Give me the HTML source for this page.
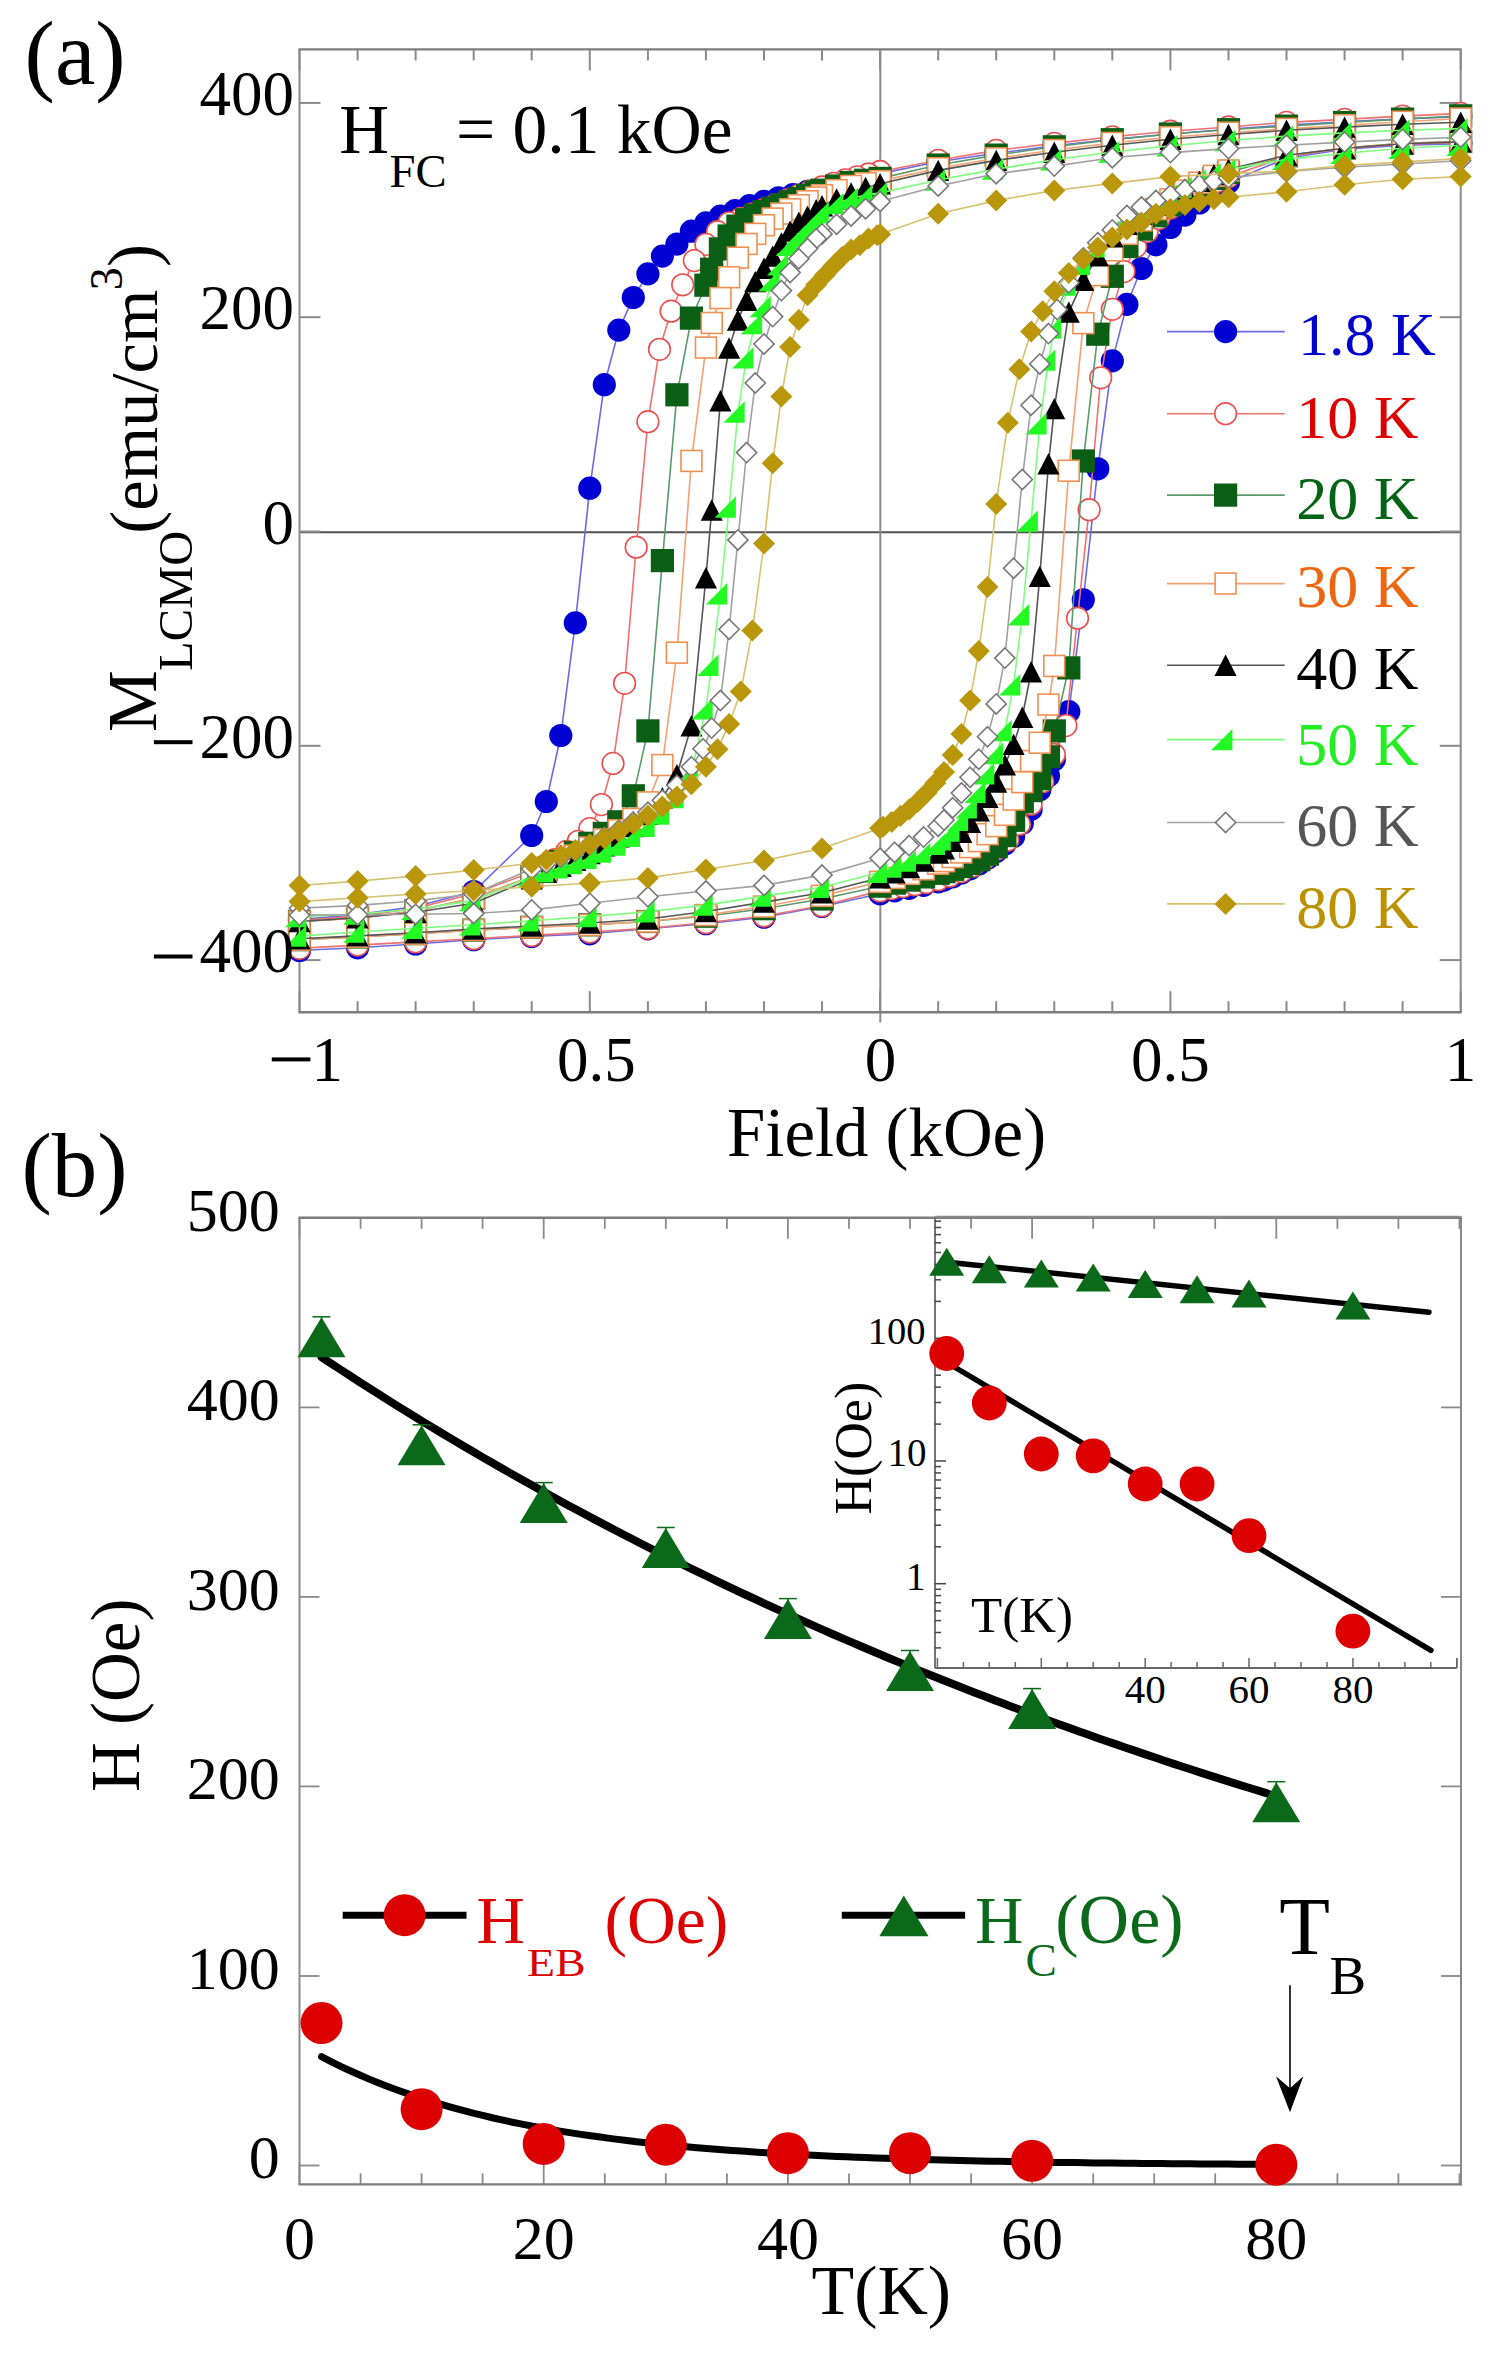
<!DOCTYPE html>
<html><head><meta charset="utf-8"><style>
html,body{margin:0;padding:0;background:#fff;}
svg{display:block;}
text{font-family:'Liberation Serif',serif;}
</style></head><body>
<svg width="1492" height="2360" viewBox="0 0 1492 2360">
<rect width="1492" height="2360" fill="#fff"/>
<line x1="299.5" y1="532.2" x2="1460.7" y2="532.2" stroke="#505050" stroke-width="2" />
<line x1="880.3" y1="49.4" x2="880.3" y2="1022.5" stroke="#8a8a8a" stroke-width="2" />
<line x1="299.5" y1="1012.2" x2="299.5" y2="991.2" stroke="#8a8a8a" stroke-width="2" />
<line x1="299.5" y1="49.4" x2="299.5" y2="70.4" stroke="#8a8a8a" stroke-width="2" />
<line x1="357.6" y1="1012.2" x2="357.6" y2="1001.2" stroke="#8a8a8a" stroke-width="2" />
<line x1="357.6" y1="49.4" x2="357.6" y2="60.4" stroke="#8a8a8a" stroke-width="2" />
<line x1="415.6" y1="1012.2" x2="415.6" y2="1001.2" stroke="#8a8a8a" stroke-width="2" />
<line x1="415.6" y1="49.4" x2="415.6" y2="60.4" stroke="#8a8a8a" stroke-width="2" />
<line x1="473.7" y1="1012.2" x2="473.7" y2="1001.2" stroke="#8a8a8a" stroke-width="2" />
<line x1="473.7" y1="49.4" x2="473.7" y2="60.4" stroke="#8a8a8a" stroke-width="2" />
<line x1="531.7" y1="1012.2" x2="531.7" y2="1001.2" stroke="#8a8a8a" stroke-width="2" />
<line x1="531.7" y1="49.4" x2="531.7" y2="60.4" stroke="#8a8a8a" stroke-width="2" />
<line x1="589.8" y1="1012.2" x2="589.8" y2="991.2" stroke="#8a8a8a" stroke-width="2" />
<line x1="589.8" y1="49.4" x2="589.8" y2="70.4" stroke="#8a8a8a" stroke-width="2" />
<line x1="647.9" y1="1012.2" x2="647.9" y2="1001.2" stroke="#8a8a8a" stroke-width="2" />
<line x1="647.9" y1="49.4" x2="647.9" y2="60.4" stroke="#8a8a8a" stroke-width="2" />
<line x1="705.9" y1="1012.2" x2="705.9" y2="1001.2" stroke="#8a8a8a" stroke-width="2" />
<line x1="705.9" y1="49.4" x2="705.9" y2="60.4" stroke="#8a8a8a" stroke-width="2" />
<line x1="764.0" y1="1012.2" x2="764.0" y2="1001.2" stroke="#8a8a8a" stroke-width="2" />
<line x1="764.0" y1="49.4" x2="764.0" y2="60.4" stroke="#8a8a8a" stroke-width="2" />
<line x1="822.0" y1="1012.2" x2="822.0" y2="1001.2" stroke="#8a8a8a" stroke-width="2" />
<line x1="822.0" y1="49.4" x2="822.0" y2="60.4" stroke="#8a8a8a" stroke-width="2" />
<line x1="880.1" y1="1012.2" x2="880.1" y2="991.2" stroke="#8a8a8a" stroke-width="2" />
<line x1="880.1" y1="49.4" x2="880.1" y2="70.4" stroke="#8a8a8a" stroke-width="2" />
<line x1="938.2" y1="1012.2" x2="938.2" y2="1001.2" stroke="#8a8a8a" stroke-width="2" />
<line x1="938.2" y1="49.4" x2="938.2" y2="60.4" stroke="#8a8a8a" stroke-width="2" />
<line x1="996.2" y1="1012.2" x2="996.2" y2="1001.2" stroke="#8a8a8a" stroke-width="2" />
<line x1="996.2" y1="49.4" x2="996.2" y2="60.4" stroke="#8a8a8a" stroke-width="2" />
<line x1="1054.3" y1="1012.2" x2="1054.3" y2="1001.2" stroke="#8a8a8a" stroke-width="2" />
<line x1="1054.3" y1="49.4" x2="1054.3" y2="60.4" stroke="#8a8a8a" stroke-width="2" />
<line x1="1112.3" y1="1012.2" x2="1112.3" y2="1001.2" stroke="#8a8a8a" stroke-width="2" />
<line x1="1112.3" y1="49.4" x2="1112.3" y2="60.4" stroke="#8a8a8a" stroke-width="2" />
<line x1="1170.4" y1="1012.2" x2="1170.4" y2="991.2" stroke="#8a8a8a" stroke-width="2" />
<line x1="1170.4" y1="49.4" x2="1170.4" y2="70.4" stroke="#8a8a8a" stroke-width="2" />
<line x1="1228.5" y1="1012.2" x2="1228.5" y2="1001.2" stroke="#8a8a8a" stroke-width="2" />
<line x1="1228.5" y1="49.4" x2="1228.5" y2="60.4" stroke="#8a8a8a" stroke-width="2" />
<line x1="1286.5" y1="1012.2" x2="1286.5" y2="1001.2" stroke="#8a8a8a" stroke-width="2" />
<line x1="1286.5" y1="49.4" x2="1286.5" y2="60.4" stroke="#8a8a8a" stroke-width="2" />
<line x1="1344.6" y1="1012.2" x2="1344.6" y2="1001.2" stroke="#8a8a8a" stroke-width="2" />
<line x1="1344.6" y1="49.4" x2="1344.6" y2="60.4" stroke="#8a8a8a" stroke-width="2" />
<line x1="1402.6" y1="1012.2" x2="1402.6" y2="1001.2" stroke="#8a8a8a" stroke-width="2" />
<line x1="1402.6" y1="49.4" x2="1402.6" y2="60.4" stroke="#8a8a8a" stroke-width="2" />
<line x1="1460.7" y1="1012.2" x2="1460.7" y2="991.2" stroke="#8a8a8a" stroke-width="2" />
<line x1="1460.7" y1="49.4" x2="1460.7" y2="70.4" stroke="#8a8a8a" stroke-width="2" />
<line x1="299.5" y1="960.1" x2="320.5" y2="960.1" stroke="#8a8a8a" stroke-width="2" />
<line x1="1460.7" y1="960.1" x2="1439.7" y2="960.1" stroke="#8a8a8a" stroke-width="2" />
<line x1="299.5" y1="745.8" x2="320.5" y2="745.8" stroke="#8a8a8a" stroke-width="2" />
<line x1="1460.7" y1="745.8" x2="1439.7" y2="745.8" stroke="#8a8a8a" stroke-width="2" />
<line x1="299.5" y1="531.5" x2="320.5" y2="531.5" stroke="#8a8a8a" stroke-width="2" />
<line x1="1460.7" y1="531.5" x2="1439.7" y2="531.5" stroke="#8a8a8a" stroke-width="2" />
<line x1="299.5" y1="317.2" x2="320.5" y2="317.2" stroke="#8a8a8a" stroke-width="2" />
<line x1="1460.7" y1="317.2" x2="1439.7" y2="317.2" stroke="#8a8a8a" stroke-width="2" />
<line x1="299.5" y1="102.9" x2="320.5" y2="102.9" stroke="#8a8a8a" stroke-width="2" />
<line x1="1460.7" y1="102.9" x2="1439.7" y2="102.9" stroke="#8a8a8a" stroke-width="2" />
<line x1="299.5" y1="49.4" x2="299.5" y2="1012.2" stroke="#8a8a8a" stroke-width="2" />
<line x1="1460.7" y1="49.4" x2="1460.7" y2="1012.2" stroke="#8a8a8a" stroke-width="2" />
<line x1="298.5" y1="49.4" x2="1461.7" y2="49.4" stroke="#7c7c7c" stroke-width="2.4" />
<line x1="298.5" y1="1012.2" x2="1461.7" y2="1012.2" stroke="#7c7c7c" stroke-width="2.4" />
<g>
<polyline fill="none" stroke="#6a6ae8" stroke-width="1.6" points="1460.7,116.8 1402.6,118.9 1344.6,121.7 1286.5,125.0 1228.5,129.2 1170.4,134.0 1112.3,139.4 1054.3,145.8 996.2,153.3 938.2,161.8 880.1,173.6 865.6,177.0 851.1,180.5 836.6,184.2 822.0,187.8 807.5,191.3 793.0,194.6 778.5,197.8 764.0,201.4 749.5,205.7 735.0,210.6 720.4,216.2 705.9,222.9 691.4,231.2 676.9,244.1 662.4,256.1 647.9,273.9 633.3,297.5 618.8,330.1 604.3,384.7 589.8,488.2 575.3,622.9 560.8,735.5 546.3,801.5 531.7,835.5 473.7,891.5 415.6,906.5 357.6,914.6 299.5,919.4 299.5,950.5 357.6,947.8 415.6,944.0 473.7,939.7 531.7,936.5 589.8,933.8 647.9,928.8 705.9,923.7 764.0,917.2 822.0,906.5 880.1,893.7 894.6,890.9 909.1,888.3 923.6,885.4 938.2,881.9 944.0,880.1 952.7,876.9 961.4,873.1 970.1,868.8 978.8,864.1 987.5,858.2 996.2,851.5 1004.9,844.1 1013.6,836.6 1022.3,823.3 1031.1,809.4 1039.8,789.8 1048.5,775.7 1054.3,759.7 1068.8,711.6 1083.3,599.8 1097.8,468.8 1112.3,360.9 1126.9,304.4 1141.4,268.5 1155.9,244.8 1170.4,227.5 1184.9,215.1 1199.4,203.0 1213.9,191.3 1228.5,182.2 1286.5,158.2 1344.6,149.3 1402.6,145.1 1460.7,143.6"/>
<circle cx="1460.7" cy="116.8" r="11.6" fill="#0000d2"/>
<circle cx="1402.6" cy="118.9" r="11.6" fill="#0000d2"/>
<circle cx="1344.6" cy="121.7" r="11.6" fill="#0000d2"/>
<circle cx="1286.5" cy="125.0" r="11.6" fill="#0000d2"/>
<circle cx="1228.5" cy="129.2" r="11.6" fill="#0000d2"/>
<circle cx="1170.4" cy="134.0" r="11.6" fill="#0000d2"/>
<circle cx="1112.3" cy="139.4" r="11.6" fill="#0000d2"/>
<circle cx="1054.3" cy="145.8" r="11.6" fill="#0000d2"/>
<circle cx="996.2" cy="153.3" r="11.6" fill="#0000d2"/>
<circle cx="938.2" cy="161.8" r="11.6" fill="#0000d2"/>
<circle cx="880.1" cy="173.6" r="11.6" fill="#0000d2"/>
<circle cx="865.6" cy="177.0" r="11.6" fill="#0000d2"/>
<circle cx="851.1" cy="180.5" r="11.6" fill="#0000d2"/>
<circle cx="836.6" cy="184.2" r="11.6" fill="#0000d2"/>
<circle cx="822.0" cy="187.8" r="11.6" fill="#0000d2"/>
<circle cx="807.5" cy="191.3" r="11.6" fill="#0000d2"/>
<circle cx="793.0" cy="194.6" r="11.6" fill="#0000d2"/>
<circle cx="778.5" cy="197.8" r="11.6" fill="#0000d2"/>
<circle cx="764.0" cy="201.4" r="11.6" fill="#0000d2"/>
<circle cx="749.5" cy="205.7" r="11.6" fill="#0000d2"/>
<circle cx="735.0" cy="210.6" r="11.6" fill="#0000d2"/>
<circle cx="720.4" cy="216.2" r="11.6" fill="#0000d2"/>
<circle cx="705.9" cy="222.9" r="11.6" fill="#0000d2"/>
<circle cx="691.4" cy="231.2" r="11.6" fill="#0000d2"/>
<circle cx="676.9" cy="244.1" r="11.6" fill="#0000d2"/>
<circle cx="662.4" cy="256.1" r="11.6" fill="#0000d2"/>
<circle cx="647.9" cy="273.9" r="11.6" fill="#0000d2"/>
<circle cx="633.3" cy="297.5" r="11.6" fill="#0000d2"/>
<circle cx="618.8" cy="330.1" r="11.6" fill="#0000d2"/>
<circle cx="604.3" cy="384.7" r="11.6" fill="#0000d2"/>
<circle cx="589.8" cy="488.2" r="11.6" fill="#0000d2"/>
<circle cx="575.3" cy="622.9" r="11.6" fill="#0000d2"/>
<circle cx="560.8" cy="735.5" r="11.6" fill="#0000d2"/>
<circle cx="546.3" cy="801.5" r="11.6" fill="#0000d2"/>
<circle cx="531.7" cy="835.5" r="11.6" fill="#0000d2"/>
<circle cx="473.7" cy="891.5" r="11.6" fill="#0000d2"/>
<circle cx="415.6" cy="906.5" r="11.6" fill="#0000d2"/>
<circle cx="357.6" cy="914.6" r="11.6" fill="#0000d2"/>
<circle cx="299.5" cy="919.4" r="11.6" fill="#0000d2"/>
<circle cx="299.5" cy="950.5" r="11.6" fill="#0000d2"/>
<circle cx="357.6" cy="947.8" r="11.6" fill="#0000d2"/>
<circle cx="415.6" cy="944.0" r="11.6" fill="#0000d2"/>
<circle cx="473.7" cy="939.7" r="11.6" fill="#0000d2"/>
<circle cx="531.7" cy="936.5" r="11.6" fill="#0000d2"/>
<circle cx="589.8" cy="933.8" r="11.6" fill="#0000d2"/>
<circle cx="647.9" cy="928.8" r="11.6" fill="#0000d2"/>
<circle cx="705.9" cy="923.7" r="11.6" fill="#0000d2"/>
<circle cx="764.0" cy="917.2" r="11.6" fill="#0000d2"/>
<circle cx="822.0" cy="906.5" r="11.6" fill="#0000d2"/>
<circle cx="880.1" cy="893.7" r="11.6" fill="#0000d2"/>
<circle cx="894.6" cy="890.9" r="11.6" fill="#0000d2"/>
<circle cx="909.1" cy="888.3" r="11.6" fill="#0000d2"/>
<circle cx="923.6" cy="885.4" r="11.6" fill="#0000d2"/>
<circle cx="938.2" cy="881.9" r="11.6" fill="#0000d2"/>
<circle cx="944.0" cy="880.1" r="11.6" fill="#0000d2"/>
<circle cx="952.7" cy="876.9" r="11.6" fill="#0000d2"/>
<circle cx="961.4" cy="873.1" r="11.6" fill="#0000d2"/>
<circle cx="970.1" cy="868.8" r="11.6" fill="#0000d2"/>
<circle cx="978.8" cy="864.1" r="11.6" fill="#0000d2"/>
<circle cx="987.5" cy="858.2" r="11.6" fill="#0000d2"/>
<circle cx="996.2" cy="851.5" r="11.6" fill="#0000d2"/>
<circle cx="1004.9" cy="844.1" r="11.6" fill="#0000d2"/>
<circle cx="1013.6" cy="836.6" r="11.6" fill="#0000d2"/>
<circle cx="1022.3" cy="823.3" r="11.6" fill="#0000d2"/>
<circle cx="1031.1" cy="809.4" r="11.6" fill="#0000d2"/>
<circle cx="1039.8" cy="789.8" r="11.6" fill="#0000d2"/>
<circle cx="1048.5" cy="775.7" r="11.6" fill="#0000d2"/>
<circle cx="1054.3" cy="759.7" r="11.6" fill="#0000d2"/>
<circle cx="1068.8" cy="711.6" r="11.6" fill="#0000d2"/>
<circle cx="1083.3" cy="599.8" r="11.6" fill="#0000d2"/>
<circle cx="1097.8" cy="468.8" r="11.6" fill="#0000d2"/>
<circle cx="1112.3" cy="360.9" r="11.6" fill="#0000d2"/>
<circle cx="1126.9" cy="304.4" r="11.6" fill="#0000d2"/>
<circle cx="1141.4" cy="268.5" r="11.6" fill="#0000d2"/>
<circle cx="1155.9" cy="244.8" r="11.6" fill="#0000d2"/>
<circle cx="1170.4" cy="227.5" r="11.6" fill="#0000d2"/>
<circle cx="1184.9" cy="215.1" r="11.6" fill="#0000d2"/>
<circle cx="1199.4" cy="203.0" r="11.6" fill="#0000d2"/>
<circle cx="1213.9" cy="191.3" r="11.6" fill="#0000d2"/>
<circle cx="1228.5" cy="182.2" r="11.6" fill="#0000d2"/>
<circle cx="1286.5" cy="158.2" r="11.6" fill="#0000d2"/>
<circle cx="1344.6" cy="149.3" r="11.6" fill="#0000d2"/>
<circle cx="1402.6" cy="145.1" r="11.6" fill="#0000d2"/>
<circle cx="1460.7" cy="143.6" r="11.6" fill="#0000d2"/>
<polyline fill="none" stroke="#f07070" stroke-width="1.6" points="1460.7,113.4 1402.6,116.1 1344.6,119.4 1286.5,122.4 1228.5,127.0 1170.4,131.2 1112.3,136.8 1054.3,143.4 996.2,150.4 938.2,160.3 880.1,171.5 868.5,174.0 856.9,176.8 845.3,179.9 833.7,183.3 822.0,187.0 810.4,191.0 798.8,195.4 787.2,199.9 775.6,204.7 764.0,209.5 752.4,214.0 740.8,218.4 729.1,222.8 717.5,231.7 705.9,244.4 694.3,260.6 682.7,284.8 671.1,311.2 659.5,349.3 647.9,421.7 636.2,547.2 624.6,683.3 613.0,763.4 601.4,804.6 589.8,828.6 578.2,841.3 566.6,851.4 555.0,859.6 543.4,866.3 531.7,872.2 473.7,893.7 415.6,908.2 357.6,916.4 299.5,920.5 299.5,948.3 357.6,945.1 415.6,941.9 473.7,938.7 531.7,935.4 589.8,932.1 647.9,928.2 705.9,922.7 764.0,916.0 822.0,905.7 880.1,890.9 891.7,888.6 903.3,886.6 914.9,884.7 926.5,882.5 938.2,879.7 949.8,876.1 961.4,871.6 973.0,866.1 984.6,858.6 996.2,849.5 1007.8,840.1 1019.4,824.2 1031.1,804.2 1042.7,781.7 1054.3,754.5 1065.9,725.6 1077.5,618.2 1089.1,509.7 1100.7,377.8 1112.3,309.3 1124.0,271.6 1135.6,246.8 1147.2,231.4 1158.8,218.5 1170.4,207.9 1182.0,200.0 1193.6,193.0 1205.2,186.9 1216.8,181.6 1228.5,176.8 1286.5,156.6 1344.6,148.3 1402.6,144.1 1460.7,142.5"/>
<circle cx="1460.7" cy="113.4" r="10.85" fill="#fff" stroke="#e85050" stroke-width="1.6"/>
<circle cx="1402.6" cy="116.1" r="10.85" fill="#fff" stroke="#e85050" stroke-width="1.6"/>
<circle cx="1344.6" cy="119.4" r="10.85" fill="#fff" stroke="#e85050" stroke-width="1.6"/>
<circle cx="1286.5" cy="122.4" r="10.85" fill="#fff" stroke="#e85050" stroke-width="1.6"/>
<circle cx="1228.5" cy="127.0" r="10.85" fill="#fff" stroke="#e85050" stroke-width="1.6"/>
<circle cx="1170.4" cy="131.2" r="10.85" fill="#fff" stroke="#e85050" stroke-width="1.6"/>
<circle cx="1112.3" cy="136.8" r="10.85" fill="#fff" stroke="#e85050" stroke-width="1.6"/>
<circle cx="1054.3" cy="143.4" r="10.85" fill="#fff" stroke="#e85050" stroke-width="1.6"/>
<circle cx="996.2" cy="150.4" r="10.85" fill="#fff" stroke="#e85050" stroke-width="1.6"/>
<circle cx="938.2" cy="160.3" r="10.85" fill="#fff" stroke="#e85050" stroke-width="1.6"/>
<circle cx="880.1" cy="171.5" r="10.85" fill="#fff" stroke="#e85050" stroke-width="1.6"/>
<circle cx="868.5" cy="174.0" r="10.85" fill="#fff" stroke="#e85050" stroke-width="1.6"/>
<circle cx="856.9" cy="176.8" r="10.85" fill="#fff" stroke="#e85050" stroke-width="1.6"/>
<circle cx="845.3" cy="179.9" r="10.85" fill="#fff" stroke="#e85050" stroke-width="1.6"/>
<circle cx="833.7" cy="183.3" r="10.85" fill="#fff" stroke="#e85050" stroke-width="1.6"/>
<circle cx="822.0" cy="187.0" r="10.85" fill="#fff" stroke="#e85050" stroke-width="1.6"/>
<circle cx="810.4" cy="191.0" r="10.85" fill="#fff" stroke="#e85050" stroke-width="1.6"/>
<circle cx="798.8" cy="195.4" r="10.85" fill="#fff" stroke="#e85050" stroke-width="1.6"/>
<circle cx="787.2" cy="199.9" r="10.85" fill="#fff" stroke="#e85050" stroke-width="1.6"/>
<circle cx="775.6" cy="204.7" r="10.85" fill="#fff" stroke="#e85050" stroke-width="1.6"/>
<circle cx="764.0" cy="209.5" r="10.85" fill="#fff" stroke="#e85050" stroke-width="1.6"/>
<circle cx="752.4" cy="214.0" r="10.85" fill="#fff" stroke="#e85050" stroke-width="1.6"/>
<circle cx="740.8" cy="218.4" r="10.85" fill="#fff" stroke="#e85050" stroke-width="1.6"/>
<circle cx="729.1" cy="222.8" r="10.85" fill="#fff" stroke="#e85050" stroke-width="1.6"/>
<circle cx="717.5" cy="231.7" r="10.85" fill="#fff" stroke="#e85050" stroke-width="1.6"/>
<circle cx="705.9" cy="244.4" r="10.85" fill="#fff" stroke="#e85050" stroke-width="1.6"/>
<circle cx="694.3" cy="260.6" r="10.85" fill="#fff" stroke="#e85050" stroke-width="1.6"/>
<circle cx="682.7" cy="284.8" r="10.85" fill="#fff" stroke="#e85050" stroke-width="1.6"/>
<circle cx="671.1" cy="311.2" r="10.85" fill="#fff" stroke="#e85050" stroke-width="1.6"/>
<circle cx="659.5" cy="349.3" r="10.85" fill="#fff" stroke="#e85050" stroke-width="1.6"/>
<circle cx="647.9" cy="421.7" r="10.85" fill="#fff" stroke="#e85050" stroke-width="1.6"/>
<circle cx="636.2" cy="547.2" r="10.85" fill="#fff" stroke="#e85050" stroke-width="1.6"/>
<circle cx="624.6" cy="683.3" r="10.85" fill="#fff" stroke="#e85050" stroke-width="1.6"/>
<circle cx="613.0" cy="763.4" r="10.85" fill="#fff" stroke="#e85050" stroke-width="1.6"/>
<circle cx="601.4" cy="804.6" r="10.85" fill="#fff" stroke="#e85050" stroke-width="1.6"/>
<circle cx="589.8" cy="828.6" r="10.85" fill="#fff" stroke="#e85050" stroke-width="1.6"/>
<circle cx="578.2" cy="841.3" r="10.85" fill="#fff" stroke="#e85050" stroke-width="1.6"/>
<circle cx="566.6" cy="851.4" r="10.85" fill="#fff" stroke="#e85050" stroke-width="1.6"/>
<circle cx="555.0" cy="859.6" r="10.85" fill="#fff" stroke="#e85050" stroke-width="1.6"/>
<circle cx="543.4" cy="866.3" r="10.85" fill="#fff" stroke="#e85050" stroke-width="1.6"/>
<circle cx="531.7" cy="872.2" r="10.85" fill="#fff" stroke="#e85050" stroke-width="1.6"/>
<circle cx="473.7" cy="893.7" r="10.85" fill="#fff" stroke="#e85050" stroke-width="1.6"/>
<circle cx="415.6" cy="908.2" r="10.85" fill="#fff" stroke="#e85050" stroke-width="1.6"/>
<circle cx="357.6" cy="916.4" r="10.85" fill="#fff" stroke="#e85050" stroke-width="1.6"/>
<circle cx="299.5" cy="920.5" r="10.85" fill="#fff" stroke="#e85050" stroke-width="1.6"/>
<circle cx="299.5" cy="948.3" r="10.85" fill="#fff" stroke="#e85050" stroke-width="1.6"/>
<circle cx="357.6" cy="945.1" r="10.85" fill="#fff" stroke="#e85050" stroke-width="1.6"/>
<circle cx="415.6" cy="941.9" r="10.85" fill="#fff" stroke="#e85050" stroke-width="1.6"/>
<circle cx="473.7" cy="938.7" r="10.85" fill="#fff" stroke="#e85050" stroke-width="1.6"/>
<circle cx="531.7" cy="935.4" r="10.85" fill="#fff" stroke="#e85050" stroke-width="1.6"/>
<circle cx="589.8" cy="932.1" r="10.85" fill="#fff" stroke="#e85050" stroke-width="1.6"/>
<circle cx="647.9" cy="928.2" r="10.85" fill="#fff" stroke="#e85050" stroke-width="1.6"/>
<circle cx="705.9" cy="922.7" r="10.85" fill="#fff" stroke="#e85050" stroke-width="1.6"/>
<circle cx="764.0" cy="916.0" r="10.85" fill="#fff" stroke="#e85050" stroke-width="1.6"/>
<circle cx="822.0" cy="905.7" r="10.85" fill="#fff" stroke="#e85050" stroke-width="1.6"/>
<circle cx="880.1" cy="890.9" r="10.85" fill="#fff" stroke="#e85050" stroke-width="1.6"/>
<circle cx="891.7" cy="888.6" r="10.85" fill="#fff" stroke="#e85050" stroke-width="1.6"/>
<circle cx="903.3" cy="886.6" r="10.85" fill="#fff" stroke="#e85050" stroke-width="1.6"/>
<circle cx="914.9" cy="884.7" r="10.85" fill="#fff" stroke="#e85050" stroke-width="1.6"/>
<circle cx="926.5" cy="882.5" r="10.85" fill="#fff" stroke="#e85050" stroke-width="1.6"/>
<circle cx="938.2" cy="879.7" r="10.85" fill="#fff" stroke="#e85050" stroke-width="1.6"/>
<circle cx="949.8" cy="876.1" r="10.85" fill="#fff" stroke="#e85050" stroke-width="1.6"/>
<circle cx="961.4" cy="871.6" r="10.85" fill="#fff" stroke="#e85050" stroke-width="1.6"/>
<circle cx="973.0" cy="866.1" r="10.85" fill="#fff" stroke="#e85050" stroke-width="1.6"/>
<circle cx="984.6" cy="858.6" r="10.85" fill="#fff" stroke="#e85050" stroke-width="1.6"/>
<circle cx="996.2" cy="849.5" r="10.85" fill="#fff" stroke="#e85050" stroke-width="1.6"/>
<circle cx="1007.8" cy="840.1" r="10.85" fill="#fff" stroke="#e85050" stroke-width="1.6"/>
<circle cx="1019.4" cy="824.2" r="10.85" fill="#fff" stroke="#e85050" stroke-width="1.6"/>
<circle cx="1031.1" cy="804.2" r="10.85" fill="#fff" stroke="#e85050" stroke-width="1.6"/>
<circle cx="1042.7" cy="781.7" r="10.85" fill="#fff" stroke="#e85050" stroke-width="1.6"/>
<circle cx="1054.3" cy="754.5" r="10.85" fill="#fff" stroke="#e85050" stroke-width="1.6"/>
<circle cx="1065.9" cy="725.6" r="10.85" fill="#fff" stroke="#e85050" stroke-width="1.6"/>
<circle cx="1077.5" cy="618.2" r="10.85" fill="#fff" stroke="#e85050" stroke-width="1.6"/>
<circle cx="1089.1" cy="509.7" r="10.85" fill="#fff" stroke="#e85050" stroke-width="1.6"/>
<circle cx="1100.7" cy="377.8" r="10.85" fill="#fff" stroke="#e85050" stroke-width="1.6"/>
<circle cx="1112.3" cy="309.3" r="10.85" fill="#fff" stroke="#e85050" stroke-width="1.6"/>
<circle cx="1124.0" cy="271.6" r="10.85" fill="#fff" stroke="#e85050" stroke-width="1.6"/>
<circle cx="1135.6" cy="246.8" r="10.85" fill="#fff" stroke="#e85050" stroke-width="1.6"/>
<circle cx="1147.2" cy="231.4" r="10.85" fill="#fff" stroke="#e85050" stroke-width="1.6"/>
<circle cx="1158.8" cy="218.5" r="10.85" fill="#fff" stroke="#e85050" stroke-width="1.6"/>
<circle cx="1170.4" cy="207.9" r="10.85" fill="#fff" stroke="#e85050" stroke-width="1.6"/>
<circle cx="1182.0" cy="200.0" r="10.85" fill="#fff" stroke="#e85050" stroke-width="1.6"/>
<circle cx="1193.6" cy="193.0" r="10.85" fill="#fff" stroke="#e85050" stroke-width="1.6"/>
<circle cx="1205.2" cy="186.9" r="10.85" fill="#fff" stroke="#e85050" stroke-width="1.6"/>
<circle cx="1216.8" cy="181.6" r="10.85" fill="#fff" stroke="#e85050" stroke-width="1.6"/>
<circle cx="1228.5" cy="176.8" r="10.85" fill="#fff" stroke="#e85050" stroke-width="1.6"/>
<circle cx="1286.5" cy="156.6" r="10.85" fill="#fff" stroke="#e85050" stroke-width="1.6"/>
<circle cx="1344.6" cy="148.3" r="10.85" fill="#fff" stroke="#e85050" stroke-width="1.6"/>
<circle cx="1402.6" cy="144.1" r="10.85" fill="#fff" stroke="#e85050" stroke-width="1.6"/>
<circle cx="1460.7" cy="142.5" r="10.85" fill="#fff" stroke="#e85050" stroke-width="1.6"/>
<polyline fill="none" stroke="#5a9a6a" stroke-width="1.6" points="1460.7,115.8 1402.6,119.1 1344.6,122.5 1286.5,126.1 1228.5,129.7 1170.4,134.0 1112.3,139.7 1054.3,146.8 996.2,155.1 938.2,165.0 880.1,178.4 865.6,180.3 851.1,182.5 836.6,186.0 822.0,190.2 816.2,192.1 807.5,195.3 798.8,198.5 790.1,201.6 781.4,204.8 772.7,208.1 764.0,211.6 755.3,215.3 746.6,219.7 737.9,226.1 729.1,236.0 720.4,248.9 711.7,269.2 705.9,285.2 691.4,318.1 676.9,394.8 662.4,560.6 647.9,730.9 633.3,795.8 618.8,821.8 604.3,833.4 589.8,843.3 575.3,852.7 560.8,861.5 546.3,869.5 531.7,876.5 473.7,898.0 415.6,911.0 357.6,918.1 299.5,921.5 299.5,939.7 357.6,937.0 415.6,933.7 473.7,930.1 531.7,927.3 589.8,924.8 647.9,921.5 705.9,916.2 764.0,908.7 822.0,899.0 880.1,886.2 894.6,883.1 909.1,880.1 923.6,876.9 938.2,873.3 944.0,871.7 952.7,869.3 961.4,866.5 970.1,863.4 978.8,859.7 987.5,854.2 996.2,846.7 1004.9,835.6 1013.6,820.3 1022.3,801.8 1031.1,790.6 1039.8,778.7 1048.5,756.8 1054.3,730.9 1068.8,667.9 1083.3,461.0 1097.8,334.2 1112.3,276.3 1126.9,246.5 1141.4,229.1 1155.9,215.7 1170.4,204.7 1184.9,194.8 1199.4,186.0 1213.9,178.5 1228.5,172.5 1286.5,155.8 1344.6,148.1 1402.6,143.3 1460.7,141.5"/>
<rect x="1449.1" y="104.2" width="23.2" height="23.2" fill="#0a5f14"/>
<rect x="1391.0" y="107.5" width="23.2" height="23.2" fill="#0a5f14"/>
<rect x="1333.0" y="110.9" width="23.2" height="23.2" fill="#0a5f14"/>
<rect x="1274.9" y="114.5" width="23.2" height="23.2" fill="#0a5f14"/>
<rect x="1216.9" y="118.1" width="23.2" height="23.2" fill="#0a5f14"/>
<rect x="1158.8" y="122.4" width="23.2" height="23.2" fill="#0a5f14"/>
<rect x="1100.7" y="128.1" width="23.2" height="23.2" fill="#0a5f14"/>
<rect x="1042.7" y="135.2" width="23.2" height="23.2" fill="#0a5f14"/>
<rect x="984.6" y="143.5" width="23.2" height="23.2" fill="#0a5f14"/>
<rect x="926.6" y="153.4" width="23.2" height="23.2" fill="#0a5f14"/>
<rect x="868.5" y="166.8" width="23.2" height="23.2" fill="#0a5f14"/>
<rect x="854.0" y="168.7" width="23.2" height="23.2" fill="#0a5f14"/>
<rect x="839.5" y="170.9" width="23.2" height="23.2" fill="#0a5f14"/>
<rect x="825.0" y="174.4" width="23.2" height="23.2" fill="#0a5f14"/>
<rect x="810.4" y="178.6" width="23.2" height="23.2" fill="#0a5f14"/>
<rect x="804.6" y="180.5" width="23.2" height="23.2" fill="#0a5f14"/>
<rect x="795.9" y="183.7" width="23.2" height="23.2" fill="#0a5f14"/>
<rect x="787.2" y="186.9" width="23.2" height="23.2" fill="#0a5f14"/>
<rect x="778.5" y="190.0" width="23.2" height="23.2" fill="#0a5f14"/>
<rect x="769.8" y="193.2" width="23.2" height="23.2" fill="#0a5f14"/>
<rect x="761.1" y="196.5" width="23.2" height="23.2" fill="#0a5f14"/>
<rect x="752.4" y="200.0" width="23.2" height="23.2" fill="#0a5f14"/>
<rect x="743.7" y="203.7" width="23.2" height="23.2" fill="#0a5f14"/>
<rect x="735.0" y="208.1" width="23.2" height="23.2" fill="#0a5f14"/>
<rect x="726.3" y="214.5" width="23.2" height="23.2" fill="#0a5f14"/>
<rect x="717.5" y="224.4" width="23.2" height="23.2" fill="#0a5f14"/>
<rect x="708.8" y="237.3" width="23.2" height="23.2" fill="#0a5f14"/>
<rect x="700.1" y="257.6" width="23.2" height="23.2" fill="#0a5f14"/>
<rect x="694.3" y="273.6" width="23.2" height="23.2" fill="#0a5f14"/>
<rect x="679.8" y="306.5" width="23.2" height="23.2" fill="#0a5f14"/>
<rect x="665.3" y="383.2" width="23.2" height="23.2" fill="#0a5f14"/>
<rect x="650.8" y="549.0" width="23.2" height="23.2" fill="#0a5f14"/>
<rect x="636.3" y="719.3" width="23.2" height="23.2" fill="#0a5f14"/>
<rect x="621.7" y="784.2" width="23.2" height="23.2" fill="#0a5f14"/>
<rect x="607.2" y="810.2" width="23.2" height="23.2" fill="#0a5f14"/>
<rect x="592.7" y="821.8" width="23.2" height="23.2" fill="#0a5f14"/>
<rect x="578.2" y="831.7" width="23.2" height="23.2" fill="#0a5f14"/>
<rect x="563.7" y="841.1" width="23.2" height="23.2" fill="#0a5f14"/>
<rect x="549.2" y="849.9" width="23.2" height="23.2" fill="#0a5f14"/>
<rect x="534.7" y="857.9" width="23.2" height="23.2" fill="#0a5f14"/>
<rect x="520.1" y="864.9" width="23.2" height="23.2" fill="#0a5f14"/>
<rect x="462.1" y="886.4" width="23.2" height="23.2" fill="#0a5f14"/>
<rect x="404.0" y="899.4" width="23.2" height="23.2" fill="#0a5f14"/>
<rect x="346.0" y="906.5" width="23.2" height="23.2" fill="#0a5f14"/>
<rect x="287.9" y="909.9" width="23.2" height="23.2" fill="#0a5f14"/>
<rect x="287.9" y="928.1" width="23.2" height="23.2" fill="#0a5f14"/>
<rect x="346.0" y="925.4" width="23.2" height="23.2" fill="#0a5f14"/>
<rect x="404.0" y="922.1" width="23.2" height="23.2" fill="#0a5f14"/>
<rect x="462.1" y="918.5" width="23.2" height="23.2" fill="#0a5f14"/>
<rect x="520.1" y="915.7" width="23.2" height="23.2" fill="#0a5f14"/>
<rect x="578.2" y="913.2" width="23.2" height="23.2" fill="#0a5f14"/>
<rect x="636.3" y="909.9" width="23.2" height="23.2" fill="#0a5f14"/>
<rect x="694.3" y="904.6" width="23.2" height="23.2" fill="#0a5f14"/>
<rect x="752.4" y="897.1" width="23.2" height="23.2" fill="#0a5f14"/>
<rect x="810.4" y="887.4" width="23.2" height="23.2" fill="#0a5f14"/>
<rect x="868.5" y="874.6" width="23.2" height="23.2" fill="#0a5f14"/>
<rect x="883.0" y="871.5" width="23.2" height="23.2" fill="#0a5f14"/>
<rect x="897.5" y="868.5" width="23.2" height="23.2" fill="#0a5f14"/>
<rect x="912.0" y="865.3" width="23.2" height="23.2" fill="#0a5f14"/>
<rect x="926.6" y="861.7" width="23.2" height="23.2" fill="#0a5f14"/>
<rect x="932.4" y="860.1" width="23.2" height="23.2" fill="#0a5f14"/>
<rect x="941.1" y="857.7" width="23.2" height="23.2" fill="#0a5f14"/>
<rect x="949.8" y="854.9" width="23.2" height="23.2" fill="#0a5f14"/>
<rect x="958.5" y="851.8" width="23.2" height="23.2" fill="#0a5f14"/>
<rect x="967.2" y="848.1" width="23.2" height="23.2" fill="#0a5f14"/>
<rect x="975.9" y="842.6" width="23.2" height="23.2" fill="#0a5f14"/>
<rect x="984.6" y="835.1" width="23.2" height="23.2" fill="#0a5f14"/>
<rect x="993.3" y="824.0" width="23.2" height="23.2" fill="#0a5f14"/>
<rect x="1002.0" y="808.7" width="23.2" height="23.2" fill="#0a5f14"/>
<rect x="1010.7" y="790.2" width="23.2" height="23.2" fill="#0a5f14"/>
<rect x="1019.5" y="779.0" width="23.2" height="23.2" fill="#0a5f14"/>
<rect x="1028.2" y="767.1" width="23.2" height="23.2" fill="#0a5f14"/>
<rect x="1036.9" y="745.2" width="23.2" height="23.2" fill="#0a5f14"/>
<rect x="1042.7" y="719.3" width="23.2" height="23.2" fill="#0a5f14"/>
<rect x="1057.2" y="656.3" width="23.2" height="23.2" fill="#0a5f14"/>
<rect x="1071.7" y="449.4" width="23.2" height="23.2" fill="#0a5f14"/>
<rect x="1086.2" y="322.6" width="23.2" height="23.2" fill="#0a5f14"/>
<rect x="1100.7" y="264.7" width="23.2" height="23.2" fill="#0a5f14"/>
<rect x="1115.3" y="234.9" width="23.2" height="23.2" fill="#0a5f14"/>
<rect x="1129.8" y="217.5" width="23.2" height="23.2" fill="#0a5f14"/>
<rect x="1144.3" y="204.1" width="23.2" height="23.2" fill="#0a5f14"/>
<rect x="1158.8" y="193.1" width="23.2" height="23.2" fill="#0a5f14"/>
<rect x="1173.3" y="183.2" width="23.2" height="23.2" fill="#0a5f14"/>
<rect x="1187.8" y="174.4" width="23.2" height="23.2" fill="#0a5f14"/>
<rect x="1202.3" y="166.9" width="23.2" height="23.2" fill="#0a5f14"/>
<rect x="1216.9" y="160.9" width="23.2" height="23.2" fill="#0a5f14"/>
<rect x="1274.9" y="144.2" width="23.2" height="23.2" fill="#0a5f14"/>
<rect x="1333.0" y="136.5" width="23.2" height="23.2" fill="#0a5f14"/>
<rect x="1391.0" y="131.7" width="23.2" height="23.2" fill="#0a5f14"/>
<rect x="1449.1" y="129.9" width="23.2" height="23.2" fill="#0a5f14"/>
<polyline fill="none" stroke="#f4a070" stroke-width="1.6" points="1460.7,118.5 1402.6,121.7 1344.6,125.2 1286.5,128.8 1228.5,132.7 1170.4,137.2 1112.3,143.0 1054.3,150.0 996.2,158.3 938.2,168.3 880.1,181.1 865.6,183.2 851.1,185.9 836.6,190.2 822.0,195.2 816.2,197.5 807.5,201.2 798.8,205.2 790.1,209.3 781.4,213.5 772.7,218.5 764.0,225.2 755.3,233.9 746.6,244.0 737.9,257.6 729.1,277.2 720.4,298.0 711.7,322.9 705.9,347.6 691.4,460.9 676.9,652.6 662.4,765.1 647.9,802.3 633.3,819.0 618.8,830.3 604.3,839.4 589.8,847.6 575.3,855.6 560.8,863.1 546.3,870.1 531.7,876.5 473.7,898.0 415.6,911.0 357.6,918.1 299.5,921.5 299.5,939.7 357.6,937.0 415.6,933.7 473.7,930.1 531.7,927.4 589.8,924.9 647.9,921.5 705.9,915.1 764.0,906.5 822.0,895.8 880.1,881.9 894.6,878.0 909.1,873.9 923.6,869.2 938.2,863.7 944.0,861.1 952.7,857.0 961.4,852.4 970.1,847.2 978.8,841.2 987.5,834.2 996.2,826.2 1004.9,814.9 1013.6,799.6 1022.3,782.2 1031.1,761.1 1039.8,742.7 1048.5,704.6 1054.3,665.9 1068.8,470.7 1083.3,323.1 1097.8,275.1 1112.3,250.4 1126.9,233.8 1141.4,220.3 1155.9,209.0 1170.4,199.3 1184.9,190.6 1199.4,182.6 1213.9,175.8 1228.5,170.4 1286.5,155.5 1344.6,148.1 1402.6,143.4 1460.7,141.5"/>
<rect x="1450.2" y="108.1" width="20.9" height="20.9" fill="#fff" stroke="#f09050" stroke-width="1.6"/>
<rect x="1392.2" y="111.3" width="20.9" height="20.9" fill="#fff" stroke="#f09050" stroke-width="1.6"/>
<rect x="1334.1" y="114.7" width="20.9" height="20.9" fill="#fff" stroke="#f09050" stroke-width="1.6"/>
<rect x="1276.1" y="118.4" width="20.9" height="20.9" fill="#fff" stroke="#f09050" stroke-width="1.6"/>
<rect x="1218.0" y="122.2" width="20.9" height="20.9" fill="#fff" stroke="#f09050" stroke-width="1.6"/>
<rect x="1160.0" y="126.7" width="20.9" height="20.9" fill="#fff" stroke="#f09050" stroke-width="1.6"/>
<rect x="1101.9" y="132.5" width="20.9" height="20.9" fill="#fff" stroke="#f09050" stroke-width="1.6"/>
<rect x="1043.8" y="139.6" width="20.9" height="20.9" fill="#fff" stroke="#f09050" stroke-width="1.6"/>
<rect x="985.8" y="147.9" width="20.9" height="20.9" fill="#fff" stroke="#f09050" stroke-width="1.6"/>
<rect x="927.7" y="157.8" width="20.9" height="20.9" fill="#fff" stroke="#f09050" stroke-width="1.6"/>
<rect x="869.6" y="170.7" width="20.9" height="20.9" fill="#fff" stroke="#f09050" stroke-width="1.6"/>
<rect x="855.1" y="172.8" width="20.9" height="20.9" fill="#fff" stroke="#f09050" stroke-width="1.6"/>
<rect x="840.6" y="175.5" width="20.9" height="20.9" fill="#fff" stroke="#f09050" stroke-width="1.6"/>
<rect x="826.1" y="179.7" width="20.9" height="20.9" fill="#fff" stroke="#f09050" stroke-width="1.6"/>
<rect x="811.6" y="184.8" width="20.9" height="20.9" fill="#fff" stroke="#f09050" stroke-width="1.6"/>
<rect x="805.8" y="187.1" width="20.9" height="20.9" fill="#fff" stroke="#f09050" stroke-width="1.6"/>
<rect x="797.1" y="190.8" width="20.9" height="20.9" fill="#fff" stroke="#f09050" stroke-width="1.6"/>
<rect x="788.4" y="194.8" width="20.9" height="20.9" fill="#fff" stroke="#f09050" stroke-width="1.6"/>
<rect x="779.7" y="198.8" width="20.9" height="20.9" fill="#fff" stroke="#f09050" stroke-width="1.6"/>
<rect x="770.9" y="203.1" width="20.9" height="20.9" fill="#fff" stroke="#f09050" stroke-width="1.6"/>
<rect x="762.2" y="208.1" width="20.9" height="20.9" fill="#fff" stroke="#f09050" stroke-width="1.6"/>
<rect x="753.5" y="214.8" width="20.9" height="20.9" fill="#fff" stroke="#f09050" stroke-width="1.6"/>
<rect x="744.8" y="223.4" width="20.9" height="20.9" fill="#fff" stroke="#f09050" stroke-width="1.6"/>
<rect x="736.1" y="233.5" width="20.9" height="20.9" fill="#fff" stroke="#f09050" stroke-width="1.6"/>
<rect x="727.4" y="247.2" width="20.9" height="20.9" fill="#fff" stroke="#f09050" stroke-width="1.6"/>
<rect x="718.7" y="266.8" width="20.9" height="20.9" fill="#fff" stroke="#f09050" stroke-width="1.6"/>
<rect x="710.0" y="287.6" width="20.9" height="20.9" fill="#fff" stroke="#f09050" stroke-width="1.6"/>
<rect x="701.3" y="312.5" width="20.9" height="20.9" fill="#fff" stroke="#f09050" stroke-width="1.6"/>
<rect x="695.5" y="337.1" width="20.9" height="20.9" fill="#fff" stroke="#f09050" stroke-width="1.6"/>
<rect x="681.0" y="450.5" width="20.9" height="20.9" fill="#fff" stroke="#f09050" stroke-width="1.6"/>
<rect x="666.4" y="642.2" width="20.9" height="20.9" fill="#fff" stroke="#f09050" stroke-width="1.6"/>
<rect x="651.9" y="754.6" width="20.9" height="20.9" fill="#fff" stroke="#f09050" stroke-width="1.6"/>
<rect x="637.4" y="791.9" width="20.9" height="20.9" fill="#fff" stroke="#f09050" stroke-width="1.6"/>
<rect x="622.9" y="808.5" width="20.9" height="20.9" fill="#fff" stroke="#f09050" stroke-width="1.6"/>
<rect x="608.4" y="819.8" width="20.9" height="20.9" fill="#fff" stroke="#f09050" stroke-width="1.6"/>
<rect x="593.9" y="828.9" width="20.9" height="20.9" fill="#fff" stroke="#f09050" stroke-width="1.6"/>
<rect x="579.3" y="837.1" width="20.9" height="20.9" fill="#fff" stroke="#f09050" stroke-width="1.6"/>
<rect x="564.8" y="845.1" width="20.9" height="20.9" fill="#fff" stroke="#f09050" stroke-width="1.6"/>
<rect x="550.3" y="852.6" width="20.9" height="20.9" fill="#fff" stroke="#f09050" stroke-width="1.6"/>
<rect x="535.8" y="859.6" width="20.9" height="20.9" fill="#fff" stroke="#f09050" stroke-width="1.6"/>
<rect x="521.3" y="866.1" width="20.9" height="20.9" fill="#fff" stroke="#f09050" stroke-width="1.6"/>
<rect x="463.2" y="887.5" width="20.9" height="20.9" fill="#fff" stroke="#f09050" stroke-width="1.6"/>
<rect x="405.2" y="900.5" width="20.9" height="20.9" fill="#fff" stroke="#f09050" stroke-width="1.6"/>
<rect x="347.1" y="907.6" width="20.9" height="20.9" fill="#fff" stroke="#f09050" stroke-width="1.6"/>
<rect x="289.1" y="911.1" width="20.9" height="20.9" fill="#fff" stroke="#f09050" stroke-width="1.6"/>
<rect x="289.1" y="929.3" width="20.9" height="20.9" fill="#fff" stroke="#f09050" stroke-width="1.6"/>
<rect x="347.1" y="926.5" width="20.9" height="20.9" fill="#fff" stroke="#f09050" stroke-width="1.6"/>
<rect x="405.2" y="923.3" width="20.9" height="20.9" fill="#fff" stroke="#f09050" stroke-width="1.6"/>
<rect x="463.2" y="919.6" width="20.9" height="20.9" fill="#fff" stroke="#f09050" stroke-width="1.6"/>
<rect x="521.3" y="916.9" width="20.9" height="20.9" fill="#fff" stroke="#f09050" stroke-width="1.6"/>
<rect x="579.3" y="914.5" width="20.9" height="20.9" fill="#fff" stroke="#f09050" stroke-width="1.6"/>
<rect x="637.4" y="911.1" width="20.9" height="20.9" fill="#fff" stroke="#f09050" stroke-width="1.6"/>
<rect x="695.5" y="904.6" width="20.9" height="20.9" fill="#fff" stroke="#f09050" stroke-width="1.6"/>
<rect x="753.5" y="896.1" width="20.9" height="20.9" fill="#fff" stroke="#f09050" stroke-width="1.6"/>
<rect x="811.6" y="885.4" width="20.9" height="20.9" fill="#fff" stroke="#f09050" stroke-width="1.6"/>
<rect x="869.6" y="871.4" width="20.9" height="20.9" fill="#fff" stroke="#f09050" stroke-width="1.6"/>
<rect x="884.2" y="867.5" width="20.9" height="20.9" fill="#fff" stroke="#f09050" stroke-width="1.6"/>
<rect x="898.7" y="863.4" width="20.9" height="20.9" fill="#fff" stroke="#f09050" stroke-width="1.6"/>
<rect x="913.2" y="858.8" width="20.9" height="20.9" fill="#fff" stroke="#f09050" stroke-width="1.6"/>
<rect x="927.7" y="853.2" width="20.9" height="20.9" fill="#fff" stroke="#f09050" stroke-width="1.6"/>
<rect x="933.5" y="850.7" width="20.9" height="20.9" fill="#fff" stroke="#f09050" stroke-width="1.6"/>
<rect x="942.2" y="846.6" width="20.9" height="20.9" fill="#fff" stroke="#f09050" stroke-width="1.6"/>
<rect x="950.9" y="842.0" width="20.9" height="20.9" fill="#fff" stroke="#f09050" stroke-width="1.6"/>
<rect x="959.6" y="836.7" width="20.9" height="20.9" fill="#fff" stroke="#f09050" stroke-width="1.6"/>
<rect x="968.4" y="830.7" width="20.9" height="20.9" fill="#fff" stroke="#f09050" stroke-width="1.6"/>
<rect x="977.1" y="823.7" width="20.9" height="20.9" fill="#fff" stroke="#f09050" stroke-width="1.6"/>
<rect x="985.8" y="815.7" width="20.9" height="20.9" fill="#fff" stroke="#f09050" stroke-width="1.6"/>
<rect x="994.5" y="804.4" width="20.9" height="20.9" fill="#fff" stroke="#f09050" stroke-width="1.6"/>
<rect x="1003.2" y="789.1" width="20.9" height="20.9" fill="#fff" stroke="#f09050" stroke-width="1.6"/>
<rect x="1011.9" y="771.7" width="20.9" height="20.9" fill="#fff" stroke="#f09050" stroke-width="1.6"/>
<rect x="1020.6" y="750.6" width="20.9" height="20.9" fill="#fff" stroke="#f09050" stroke-width="1.6"/>
<rect x="1029.3" y="732.3" width="20.9" height="20.9" fill="#fff" stroke="#f09050" stroke-width="1.6"/>
<rect x="1038.0" y="694.1" width="20.9" height="20.9" fill="#fff" stroke="#f09050" stroke-width="1.6"/>
<rect x="1043.8" y="655.5" width="20.9" height="20.9" fill="#fff" stroke="#f09050" stroke-width="1.6"/>
<rect x="1058.3" y="460.3" width="20.9" height="20.9" fill="#fff" stroke="#f09050" stroke-width="1.6"/>
<rect x="1072.9" y="312.7" width="20.9" height="20.9" fill="#fff" stroke="#f09050" stroke-width="1.6"/>
<rect x="1087.4" y="264.7" width="20.9" height="20.9" fill="#fff" stroke="#f09050" stroke-width="1.6"/>
<rect x="1101.9" y="239.9" width="20.9" height="20.9" fill="#fff" stroke="#f09050" stroke-width="1.6"/>
<rect x="1116.4" y="223.4" width="20.9" height="20.9" fill="#fff" stroke="#f09050" stroke-width="1.6"/>
<rect x="1130.9" y="209.9" width="20.9" height="20.9" fill="#fff" stroke="#f09050" stroke-width="1.6"/>
<rect x="1145.4" y="198.6" width="20.9" height="20.9" fill="#fff" stroke="#f09050" stroke-width="1.6"/>
<rect x="1160.0" y="188.9" width="20.9" height="20.9" fill="#fff" stroke="#f09050" stroke-width="1.6"/>
<rect x="1174.5" y="180.1" width="20.9" height="20.9" fill="#fff" stroke="#f09050" stroke-width="1.6"/>
<rect x="1189.0" y="172.2" width="20.9" height="20.9" fill="#fff" stroke="#f09050" stroke-width="1.6"/>
<rect x="1203.5" y="165.4" width="20.9" height="20.9" fill="#fff" stroke="#f09050" stroke-width="1.6"/>
<rect x="1218.0" y="160.0" width="20.9" height="20.9" fill="#fff" stroke="#f09050" stroke-width="1.6"/>
<rect x="1276.1" y="145.0" width="20.9" height="20.9" fill="#fff" stroke="#f09050" stroke-width="1.6"/>
<rect x="1334.1" y="137.7" width="20.9" height="20.9" fill="#fff" stroke="#f09050" stroke-width="1.6"/>
<rect x="1392.2" y="132.9" width="20.9" height="20.9" fill="#fff" stroke="#f09050" stroke-width="1.6"/>
<rect x="1450.2" y="131.0" width="20.9" height="20.9" fill="#fff" stroke="#f09050" stroke-width="1.6"/>
<polyline fill="none" stroke="#555555" stroke-width="1.6" points="1460.7,122.2 1402.6,124.3 1344.6,127.1 1286.5,130.3 1228.5,134.5 1170.4,139.3 1112.3,145.2 1054.3,152.2 996.2,160.4 938.2,170.4 880.1,183.8 865.6,187.5 851.1,192.9 836.6,198.9 822.0,205.8 816.2,209.7 807.5,216.2 798.8,222.3 790.1,231.1 781.4,242.9 772.7,256.1 764.0,268.2 755.3,281.6 746.6,300.2 737.9,320.1 729.1,348.0 720.4,400.7 711.7,510.0 705.9,577.7 691.4,725.9 676.9,774.8 662.4,797.7 647.9,814.2 633.3,826.6 618.8,836.9 604.3,845.9 589.8,853.5 575.3,860.2 560.8,866.4 546.3,872.4 531.7,878.7 473.7,903.3 415.6,912.2 357.6,917.7 299.5,921.5 299.5,938.7 357.6,935.9 415.6,932.7 473.7,929.0 531.7,926.0 589.8,923.0 647.9,919.0 705.9,911.5 764.0,902.1 822.0,892.7 880.1,877.7 894.6,872.9 909.1,867.5 923.6,861.0 938.2,853.0 944.0,848.9 952.7,841.4 961.4,832.4 970.1,822.2 978.8,810.9 987.5,797.4 996.2,782.0 1004.9,764.9 1013.6,744.4 1022.3,717.2 1031.1,671.8 1039.8,576.4 1048.5,463.8 1054.3,408.6 1068.8,312.1 1083.3,280.4 1097.8,255.8 1112.3,236.8 1126.9,224.2 1141.4,214.0 1155.9,205.3 1170.4,197.2 1184.9,189.1 1199.4,181.3 1213.9,174.6 1228.5,169.3 1286.5,155.2 1344.6,148.3 1402.6,143.7 1460.7,141.9"/>
<path d="M1460.7 111.5L1471.8 132.9L1449.7 132.9Z" fill="#000"/>
<path d="M1402.6 113.6L1413.7 135.0L1391.6 135.0Z" fill="#000"/>
<path d="M1344.6 116.4L1355.6 137.8L1333.5 137.8Z" fill="#000"/>
<path d="M1286.5 119.6L1297.6 141.0L1275.5 141.0Z" fill="#000"/>
<path d="M1228.5 123.8L1239.5 145.2L1217.4 145.2Z" fill="#000"/>
<path d="M1170.4 128.6L1181.5 150.0L1159.4 150.0Z" fill="#000"/>
<path d="M1112.3 134.5L1123.4 155.9L1101.3 155.9Z" fill="#000"/>
<path d="M1054.3 141.5L1065.3 162.9L1043.2 162.9Z" fill="#000"/>
<path d="M996.2 149.7L1007.3 171.1L985.2 171.1Z" fill="#000"/>
<path d="M938.2 159.7L949.2 181.1L927.1 181.1Z" fill="#000"/>
<path d="M880.1 173.1L891.1 194.5L869.1 194.5Z" fill="#000"/>
<path d="M865.6 176.8L876.6 198.2L854.5 198.2Z" fill="#000"/>
<path d="M851.1 182.2L862.1 203.6L840.0 203.6Z" fill="#000"/>
<path d="M836.6 188.2L847.6 209.6L825.5 209.6Z" fill="#000"/>
<path d="M822.0 195.1L833.1 216.5L811.0 216.5Z" fill="#000"/>
<path d="M816.2 199.0L827.3 220.4L805.2 220.4Z" fill="#000"/>
<path d="M807.5 205.5L818.6 226.9L796.5 226.9Z" fill="#000"/>
<path d="M798.8 211.6L809.9 233.0L787.8 233.0Z" fill="#000"/>
<path d="M790.1 220.4L801.2 241.8L779.1 241.8Z" fill="#000"/>
<path d="M781.4 232.2L792.4 253.6L770.3 253.6Z" fill="#000"/>
<path d="M772.7 245.4L783.7 266.8L761.6 266.8Z" fill="#000"/>
<path d="M764.0 257.5L775.0 278.9L752.9 278.9Z" fill="#000"/>
<path d="M755.3 270.9L766.3 292.3L744.2 292.3Z" fill="#000"/>
<path d="M746.6 289.5L757.6 310.9L735.5 310.9Z" fill="#000"/>
<path d="M737.9 309.4L748.9 330.8L726.8 330.8Z" fill="#000"/>
<path d="M729.1 337.3L740.2 358.7L718.1 358.7Z" fill="#000"/>
<path d="M720.4 390.0L731.5 411.4L709.4 411.4Z" fill="#000"/>
<path d="M711.7 499.3L722.8 520.7L700.7 520.7Z" fill="#000"/>
<path d="M705.9 567.0L717.0 588.4L694.9 588.4Z" fill="#000"/>
<path d="M691.4 715.2L702.5 736.6L680.4 736.6Z" fill="#000"/>
<path d="M676.9 764.1L687.9 785.5L665.8 785.5Z" fill="#000"/>
<path d="M662.4 787.0L673.4 808.4L651.3 808.4Z" fill="#000"/>
<path d="M647.9 803.5L658.9 824.9L636.8 824.9Z" fill="#000"/>
<path d="M633.3 815.9L644.4 837.3L622.3 837.3Z" fill="#000"/>
<path d="M618.8 826.2L629.9 847.6L607.8 847.6Z" fill="#000"/>
<path d="M604.3 835.2L615.4 856.6L593.3 856.6Z" fill="#000"/>
<path d="M589.8 842.8L600.8 864.2L578.8 864.2Z" fill="#000"/>
<path d="M575.3 849.5L586.3 870.9L564.2 870.9Z" fill="#000"/>
<path d="M560.8 855.7L571.8 877.1L549.7 877.1Z" fill="#000"/>
<path d="M546.3 861.7L557.3 883.1L535.2 883.1Z" fill="#000"/>
<path d="M531.7 868.0L542.8 889.4L520.7 889.4Z" fill="#000"/>
<path d="M473.7 892.6L484.7 914.0L462.6 914.0Z" fill="#000"/>
<path d="M415.6 901.5L426.7 922.9L404.6 922.9Z" fill="#000"/>
<path d="M357.6 907.0L368.6 928.4L346.5 928.4Z" fill="#000"/>
<path d="M299.5 910.8L310.6 932.2L288.4 932.2Z" fill="#000"/>
<path d="M299.5 928.0L310.6 949.4L288.4 949.4Z" fill="#000"/>
<path d="M357.6 925.2L368.6 946.6L346.5 946.6Z" fill="#000"/>
<path d="M415.6 922.0L426.7 943.4L404.6 943.4Z" fill="#000"/>
<path d="M473.7 918.3L484.7 939.7L462.6 939.7Z" fill="#000"/>
<path d="M531.7 915.3L542.8 936.7L520.7 936.7Z" fill="#000"/>
<path d="M589.8 912.3L600.8 933.7L578.8 933.7Z" fill="#000"/>
<path d="M647.9 908.3L658.9 929.7L636.8 929.7Z" fill="#000"/>
<path d="M705.9 900.8L717.0 922.2L694.9 922.2Z" fill="#000"/>
<path d="M764.0 891.4L775.0 912.8L752.9 912.8Z" fill="#000"/>
<path d="M822.0 882.0L833.1 903.4L811.0 903.4Z" fill="#000"/>
<path d="M880.1 867.0L891.1 888.4L869.1 888.4Z" fill="#000"/>
<path d="M894.6 862.2L905.7 883.6L883.6 883.6Z" fill="#000"/>
<path d="M909.1 856.8L920.2 878.2L898.1 878.2Z" fill="#000"/>
<path d="M923.6 850.3L934.7 871.7L912.6 871.7Z" fill="#000"/>
<path d="M938.2 842.2L949.2 863.7L927.1 863.7Z" fill="#000"/>
<path d="M944.0 838.2L955.0 859.6L932.9 859.6Z" fill="#000"/>
<path d="M952.7 830.7L963.7 852.1L941.6 852.1Z" fill="#000"/>
<path d="M961.4 821.7L972.4 843.1L950.3 843.1Z" fill="#000"/>
<path d="M970.1 811.5L981.1 832.9L959.0 832.9Z" fill="#000"/>
<path d="M978.8 800.2L989.9 821.6L967.8 821.6Z" fill="#000"/>
<path d="M987.5 786.7L998.6 808.1L976.5 808.1Z" fill="#000"/>
<path d="M996.2 771.3L1007.3 792.7L985.2 792.7Z" fill="#000"/>
<path d="M1004.9 754.2L1016.0 775.6L993.9 775.6Z" fill="#000"/>
<path d="M1013.6 733.7L1024.7 755.1L1002.6 755.1Z" fill="#000"/>
<path d="M1022.3 706.5L1033.4 727.9L1011.3 727.9Z" fill="#000"/>
<path d="M1031.1 661.1L1042.1 682.5L1020.0 682.5Z" fill="#000"/>
<path d="M1039.8 565.7L1050.8 587.1L1028.7 587.1Z" fill="#000"/>
<path d="M1048.5 453.1L1059.5 474.5L1037.4 474.5Z" fill="#000"/>
<path d="M1054.3 397.9L1065.3 419.3L1043.2 419.3Z" fill="#000"/>
<path d="M1068.8 301.4L1079.8 322.8L1057.7 322.8Z" fill="#000"/>
<path d="M1083.3 269.7L1094.4 291.1L1072.3 291.1Z" fill="#000"/>
<path d="M1097.8 245.1L1108.9 266.5L1086.8 266.5Z" fill="#000"/>
<path d="M1112.3 226.1L1123.4 247.5L1101.3 247.5Z" fill="#000"/>
<path d="M1126.9 213.5L1137.9 234.9L1115.8 234.9Z" fill="#000"/>
<path d="M1141.4 203.3L1152.4 224.7L1130.3 224.7Z" fill="#000"/>
<path d="M1155.9 194.6L1166.9 216.0L1144.8 216.0Z" fill="#000"/>
<path d="M1170.4 186.5L1181.5 207.9L1159.4 207.9Z" fill="#000"/>
<path d="M1184.9 178.4L1196.0 199.8L1173.9 199.8Z" fill="#000"/>
<path d="M1199.4 170.6L1210.5 192.0L1188.4 192.0Z" fill="#000"/>
<path d="M1213.9 163.9L1225.0 185.3L1202.9 185.3Z" fill="#000"/>
<path d="M1228.5 158.6L1239.5 180.0L1217.4 180.0Z" fill="#000"/>
<path d="M1286.5 144.5L1297.6 165.9L1275.5 165.9Z" fill="#000"/>
<path d="M1344.6 137.6L1355.6 159.0L1333.5 159.0Z" fill="#000"/>
<path d="M1402.6 133.0L1413.7 154.4L1391.6 154.4Z" fill="#000"/>
<path d="M1460.7 131.2L1471.8 152.6L1449.7 152.6Z" fill="#000"/>
<polyline fill="none" stroke="#7cff7c" stroke-width="1.6" points="1460.7,128.6 1402.6,130.3 1344.6,132.9 1286.5,136.1 1228.5,140.5 1170.4,145.8 1112.3,152.0 1054.3,159.7 996.2,169.1 938.2,180.0 880.1,192.9 865.6,195.4 851.1,198.3 836.6,203.6 822.0,212.7 816.2,218.6 807.5,228.4 798.8,235.9 790.1,245.4 781.4,264.8 772.7,280.8 764.0,306.5 755.3,323.6 746.6,357.9 737.9,412.0 729.1,507.0 720.4,593.8 711.7,665.3 705.9,708.9 691.4,772.5 676.9,797.5 662.4,814.0 647.9,826.2 633.3,836.4 618.8,845.0 604.3,852.1 589.8,858.3 575.3,863.5 560.8,867.7 546.3,871.8 531.7,876.5 473.7,900.6 415.6,909.3 357.6,914.0 299.5,916.6 299.5,936.1 357.6,932.0 415.6,928.3 473.7,924.7 531.7,920.8 589.8,916.6 647.9,911.7 705.9,905.1 764.0,896.1 822.0,887.2 880.1,872.2 894.6,867.0 909.1,861.0 923.6,853.5 938.2,844.4 944.0,839.8 952.7,831.0 961.4,820.2 970.1,807.9 978.8,792.3 987.5,773.9 996.2,753.5 1004.9,730.6 1013.6,684.9 1022.3,614.8 1031.1,521.0 1039.8,423.8 1048.5,360.1 1054.3,328.1 1068.8,285.1 1083.3,264.2 1097.8,246.9 1112.3,231.5 1126.9,220.4 1141.4,210.9 1155.9,202.7 1170.4,195.0 1184.9,187.4 1199.4,180.1 1213.9,173.8 1228.5,169.3 1286.5,159.4 1344.6,153.2 1402.6,148.3 1460.7,145.3"/>
<path d="M1467.5 117.9L1467.5 139.3L1446.2 139.3Z" fill="#23fa23"/>
<path d="M1409.4 119.6L1409.4 141.0L1388.1 141.0Z" fill="#23fa23"/>
<path d="M1351.4 122.2L1351.4 143.6L1330.1 143.6Z" fill="#23fa23"/>
<path d="M1293.3 125.4L1293.3 146.8L1272.0 146.8Z" fill="#23fa23"/>
<path d="M1235.3 129.8L1235.3 151.2L1214.0 151.2Z" fill="#23fa23"/>
<path d="M1177.2 135.1L1177.2 156.5L1155.9 156.5Z" fill="#23fa23"/>
<path d="M1119.1 141.3L1119.1 162.7L1097.8 162.7Z" fill="#23fa23"/>
<path d="M1061.1 149.0L1061.1 170.4L1039.8 170.4Z" fill="#23fa23"/>
<path d="M1003.0 158.4L1003.0 179.8L981.7 179.8Z" fill="#23fa23"/>
<path d="M945.0 169.3L945.0 190.7L923.7 190.7Z" fill="#23fa23"/>
<path d="M886.9 182.2L886.9 203.6L865.6 203.6Z" fill="#23fa23"/>
<path d="M872.4 184.7L872.4 206.1L851.1 206.1Z" fill="#23fa23"/>
<path d="M857.9 187.6L857.9 209.0L836.6 209.0Z" fill="#23fa23"/>
<path d="M843.4 192.9L843.4 214.3L822.1 214.3Z" fill="#23fa23"/>
<path d="M828.8 202.0L828.8 223.4L807.5 223.4Z" fill="#23fa23"/>
<path d="M823.0 207.9L823.0 229.3L801.7 229.3Z" fill="#23fa23"/>
<path d="M814.3 217.7L814.3 239.1L793.0 239.1Z" fill="#23fa23"/>
<path d="M805.6 225.2L805.6 246.6L784.3 246.6Z" fill="#23fa23"/>
<path d="M796.9 234.7L796.9 256.1L775.6 256.1Z" fill="#23fa23"/>
<path d="M788.2 254.1L788.2 275.5L766.9 275.5Z" fill="#23fa23"/>
<path d="M779.5 270.1L779.5 291.5L758.2 291.5Z" fill="#23fa23"/>
<path d="M770.8 295.8L770.8 317.2L749.5 317.2Z" fill="#23fa23"/>
<path d="M762.1 312.9L762.1 334.3L740.8 334.3Z" fill="#23fa23"/>
<path d="M753.4 347.2L753.4 368.6L732.1 368.6Z" fill="#23fa23"/>
<path d="M744.7 401.3L744.7 422.7L723.4 422.7Z" fill="#23fa23"/>
<path d="M735.9 496.3L735.9 517.7L714.6 517.7Z" fill="#23fa23"/>
<path d="M727.2 583.1L727.2 604.5L705.9 604.5Z" fill="#23fa23"/>
<path d="M718.5 654.6L718.5 676.0L697.2 676.0Z" fill="#23fa23"/>
<path d="M712.7 698.2L712.7 719.6L691.4 719.6Z" fill="#23fa23"/>
<path d="M698.2 761.8L698.2 783.2L676.9 783.2Z" fill="#23fa23"/>
<path d="M683.7 786.8L683.7 808.2L662.4 808.2Z" fill="#23fa23"/>
<path d="M669.2 803.3L669.2 824.7L647.9 824.7Z" fill="#23fa23"/>
<path d="M654.7 815.5L654.7 836.9L633.4 836.9Z" fill="#23fa23"/>
<path d="M640.1 825.7L640.1 847.1L618.8 847.1Z" fill="#23fa23"/>
<path d="M625.6 834.3L625.6 855.7L604.3 855.7Z" fill="#23fa23"/>
<path d="M611.1 841.4L611.1 862.8L589.8 862.8Z" fill="#23fa23"/>
<path d="M596.6 847.6L596.6 869.0L575.3 869.0Z" fill="#23fa23"/>
<path d="M582.1 852.8L582.1 874.2L560.8 874.2Z" fill="#23fa23"/>
<path d="M567.6 857.0L567.6 878.4L546.3 878.4Z" fill="#23fa23"/>
<path d="M553.1 861.1L553.1 882.5L531.8 882.5Z" fill="#23fa23"/>
<path d="M538.5 865.8L538.5 887.2L517.2 887.2Z" fill="#23fa23"/>
<path d="M480.5 889.9L480.5 911.3L459.2 911.3Z" fill="#23fa23"/>
<path d="M422.4 898.6L422.4 920.0L401.1 920.0Z" fill="#23fa23"/>
<path d="M364.4 903.3L364.4 924.7L343.1 924.7Z" fill="#23fa23"/>
<path d="M306.3 905.9L306.3 927.3L285.0 927.3Z" fill="#23fa23"/>
<path d="M306.3 925.4L306.3 946.8L285.0 946.8Z" fill="#23fa23"/>
<path d="M364.4 921.3L364.4 942.7L343.1 942.7Z" fill="#23fa23"/>
<path d="M422.4 917.6L422.4 939.0L401.1 939.0Z" fill="#23fa23"/>
<path d="M480.5 914.0L480.5 935.4L459.2 935.4Z" fill="#23fa23"/>
<path d="M538.5 910.1L538.5 931.5L517.2 931.5Z" fill="#23fa23"/>
<path d="M596.6 905.9L596.6 927.3L575.3 927.3Z" fill="#23fa23"/>
<path d="M654.7 901.0L654.7 922.4L633.4 922.4Z" fill="#23fa23"/>
<path d="M712.7 894.4L712.7 915.8L691.4 915.8Z" fill="#23fa23"/>
<path d="M770.8 885.4L770.8 906.8L749.5 906.8Z" fill="#23fa23"/>
<path d="M828.8 876.5L828.8 897.9L807.5 897.9Z" fill="#23fa23"/>
<path d="M886.9 861.5L886.9 882.9L865.6 882.9Z" fill="#23fa23"/>
<path d="M901.4 856.3L901.4 877.7L880.1 877.7Z" fill="#23fa23"/>
<path d="M915.9 850.3L915.9 871.7L894.6 871.7Z" fill="#23fa23"/>
<path d="M930.4 842.8L930.4 864.2L909.1 864.2Z" fill="#23fa23"/>
<path d="M945.0 833.7L945.0 855.1L923.7 855.1Z" fill="#23fa23"/>
<path d="M950.8 829.1L950.8 850.5L929.5 850.5Z" fill="#23fa23"/>
<path d="M959.5 820.3L959.5 841.7L938.2 841.7Z" fill="#23fa23"/>
<path d="M968.2 809.5L968.2 830.9L946.9 830.9Z" fill="#23fa23"/>
<path d="M976.9 797.2L976.9 818.6L955.6 818.6Z" fill="#23fa23"/>
<path d="M985.6 781.6L985.6 803.0L964.3 803.0Z" fill="#23fa23"/>
<path d="M994.3 763.2L994.3 784.6L973.0 784.6Z" fill="#23fa23"/>
<path d="M1003.0 742.8L1003.0 764.2L981.7 764.2Z" fill="#23fa23"/>
<path d="M1011.7 719.9L1011.7 741.3L990.4 741.3Z" fill="#23fa23"/>
<path d="M1020.4 674.2L1020.4 695.6L999.1 695.6Z" fill="#23fa23"/>
<path d="M1029.1 604.1L1029.1 625.5L1007.8 625.5Z" fill="#23fa23"/>
<path d="M1037.9 510.3L1037.9 531.7L1016.6 531.7Z" fill="#23fa23"/>
<path d="M1046.6 413.1L1046.6 434.5L1025.3 434.5Z" fill="#23fa23"/>
<path d="M1055.3 349.4L1055.3 370.8L1034.0 370.8Z" fill="#23fa23"/>
<path d="M1061.1 317.4L1061.1 338.8L1039.8 338.8Z" fill="#23fa23"/>
<path d="M1075.6 274.4L1075.6 295.8L1054.3 295.8Z" fill="#23fa23"/>
<path d="M1090.1 253.5L1090.1 274.9L1068.8 274.9Z" fill="#23fa23"/>
<path d="M1104.6 236.2L1104.6 257.6L1083.3 257.6Z" fill="#23fa23"/>
<path d="M1119.1 220.8L1119.1 242.2L1097.8 242.2Z" fill="#23fa23"/>
<path d="M1133.7 209.7L1133.7 231.1L1112.4 231.1Z" fill="#23fa23"/>
<path d="M1148.2 200.2L1148.2 221.6L1126.9 221.6Z" fill="#23fa23"/>
<path d="M1162.7 192.0L1162.7 213.4L1141.4 213.4Z" fill="#23fa23"/>
<path d="M1177.2 184.3L1177.2 205.7L1155.9 205.7Z" fill="#23fa23"/>
<path d="M1191.7 176.7L1191.7 198.1L1170.4 198.1Z" fill="#23fa23"/>
<path d="M1206.2 169.4L1206.2 190.8L1184.9 190.8Z" fill="#23fa23"/>
<path d="M1220.7 163.1L1220.7 184.5L1199.4 184.5Z" fill="#23fa23"/>
<path d="M1235.3 158.6L1235.3 180.0L1214.0 180.0Z" fill="#23fa23"/>
<path d="M1293.3 148.7L1293.3 170.1L1272.0 170.1Z" fill="#23fa23"/>
<path d="M1351.4 142.5L1351.4 163.9L1330.1 163.9Z" fill="#23fa23"/>
<path d="M1409.4 137.6L1409.4 159.0L1388.1 159.0Z" fill="#23fa23"/>
<path d="M1467.5 134.6L1467.5 156.0L1446.2 156.0Z" fill="#23fa23"/>
<polyline fill="none" stroke="#a0a0a0" stroke-width="1.6" points="1460.7,137.2 1402.6,139.4 1344.6,142.1 1286.5,145.2 1228.5,148.6 1170.4,152.6 1112.3,157.8 1054.3,166.1 996.2,173.8 938.2,186.0 880.1,201.5 865.6,208.7 851.1,215.9 836.6,224.3 822.0,233.9 816.2,238.7 807.5,248.6 798.8,258.7 790.1,272.5 781.4,290.6 772.7,316.6 764.0,344.0 755.3,383.0 746.6,452.6 737.9,539.9 729.1,629.3 720.4,700.5 711.7,728.1 703.0,748.8 691.4,766.8 676.9,785.3 662.4,800.2 647.9,812.2 633.3,822.1 618.8,830.2 604.3,837.5 589.8,844.4 575.3,851.0 560.8,857.1 546.3,863.0 531.7,869.0 473.7,893.7 415.6,901.0 357.6,905.4 299.5,908.2 299.5,915.1 357.6,914.8 415.6,914.3 473.7,913.5 531.7,909.9 589.8,903.3 647.9,896.7 705.9,891.0 764.0,885.4 822.0,875.1 880.1,858.2 894.6,852.4 909.1,845.6 923.6,837.1 938.2,826.2 944.0,820.1 952.7,807.8 961.4,793.0 970.1,777.3 978.8,759.3 987.5,736.8 996.2,703.9 1004.9,658.1 1013.6,568.3 1022.3,479.5 1031.1,405.2 1039.8,363.9 1048.5,333.6 1057.2,309.6 1068.8,282.8 1083.3,258.0 1097.8,242.7 1112.3,229.9 1126.9,215.5 1141.4,207.0 1155.9,200.5 1170.4,195.0 1184.9,189.8 1199.4,185.0 1213.9,180.9 1228.5,177.9 1286.5,171.5 1344.6,167.2 1402.6,164.0 1460.7,160.8"/>
<path d="M1460.7 127.1L1470.8 137.2L1460.7 147.3L1450.6 137.2Z" fill="#fff" stroke="#777" stroke-width="1.6"/>
<path d="M1402.6 129.3L1412.7 139.4L1402.6 149.5L1392.5 139.4Z" fill="#fff" stroke="#777" stroke-width="1.6"/>
<path d="M1344.6 132.0L1354.7 142.1L1344.6 152.2L1334.5 142.1Z" fill="#fff" stroke="#777" stroke-width="1.6"/>
<path d="M1286.5 135.1L1296.6 145.2L1286.5 155.3L1276.4 145.2Z" fill="#fff" stroke="#777" stroke-width="1.6"/>
<path d="M1228.5 138.5L1238.6 148.6L1228.5 158.7L1218.4 148.6Z" fill="#fff" stroke="#777" stroke-width="1.6"/>
<path d="M1170.4 142.5L1180.5 152.6L1170.4 162.7L1160.3 152.6Z" fill="#fff" stroke="#777" stroke-width="1.6"/>
<path d="M1112.3 147.7L1122.4 157.8L1112.3 167.9L1102.2 157.8Z" fill="#fff" stroke="#777" stroke-width="1.6"/>
<path d="M1054.3 156.0L1064.4 166.1L1054.3 176.2L1044.2 166.1Z" fill="#fff" stroke="#777" stroke-width="1.6"/>
<path d="M996.2 163.7L1006.3 173.8L996.2 183.9L986.1 173.8Z" fill="#fff" stroke="#777" stroke-width="1.6"/>
<path d="M938.2 175.9L948.3 186.0L938.2 196.1L928.1 186.0Z" fill="#fff" stroke="#777" stroke-width="1.6"/>
<path d="M880.1 191.4L890.2 201.5L880.1 211.6L870.0 201.5Z" fill="#fff" stroke="#777" stroke-width="1.6"/>
<path d="M865.6 198.6L875.7 208.7L865.6 218.8L855.5 208.7Z" fill="#fff" stroke="#777" stroke-width="1.6"/>
<path d="M851.1 205.8L861.2 215.9L851.1 226.0L841.0 215.9Z" fill="#fff" stroke="#777" stroke-width="1.6"/>
<path d="M836.6 214.2L846.7 224.3L836.6 234.4L826.5 224.3Z" fill="#fff" stroke="#777" stroke-width="1.6"/>
<path d="M822.0 223.8L832.1 233.9L822.0 244.0L811.9 233.9Z" fill="#fff" stroke="#777" stroke-width="1.6"/>
<path d="M816.2 228.6L826.3 238.7L816.2 248.8L806.1 238.7Z" fill="#fff" stroke="#777" stroke-width="1.6"/>
<path d="M807.5 238.5L817.6 248.6L807.5 258.7L797.4 248.6Z" fill="#fff" stroke="#777" stroke-width="1.6"/>
<path d="M798.8 248.6L808.9 258.7L798.8 268.8L788.7 258.7Z" fill="#fff" stroke="#777" stroke-width="1.6"/>
<path d="M790.1 262.4L800.2 272.5L790.1 282.6L780.0 272.5Z" fill="#fff" stroke="#777" stroke-width="1.6"/>
<path d="M781.4 280.5L791.5 290.6L781.4 300.7L771.3 290.6Z" fill="#fff" stroke="#777" stroke-width="1.6"/>
<path d="M772.7 306.5L782.8 316.6L772.7 326.7L762.6 316.6Z" fill="#fff" stroke="#777" stroke-width="1.6"/>
<path d="M764.0 333.9L774.1 344.0L764.0 354.1L753.9 344.0Z" fill="#fff" stroke="#777" stroke-width="1.6"/>
<path d="M755.3 372.9L765.4 383.0L755.3 393.1L745.2 383.0Z" fill="#fff" stroke="#777" stroke-width="1.6"/>
<path d="M746.6 442.5L756.7 452.6L746.6 462.7L736.5 452.6Z" fill="#fff" stroke="#777" stroke-width="1.6"/>
<path d="M737.9 529.8L748.0 539.9L737.9 550.0L727.8 539.9Z" fill="#fff" stroke="#777" stroke-width="1.6"/>
<path d="M729.1 619.2L739.2 629.3L729.1 639.4L719.0 629.3Z" fill="#fff" stroke="#777" stroke-width="1.6"/>
<path d="M720.4 690.4L730.5 700.5L720.4 710.6L710.3 700.5Z" fill="#fff" stroke="#777" stroke-width="1.6"/>
<path d="M711.7 718.0L721.8 728.1L711.7 738.2L701.6 728.1Z" fill="#fff" stroke="#777" stroke-width="1.6"/>
<path d="M703.0 738.7L713.1 748.8L703.0 758.9L692.9 748.8Z" fill="#fff" stroke="#777" stroke-width="1.6"/>
<path d="M691.4 756.7L701.5 766.8L691.4 776.9L681.3 766.8Z" fill="#fff" stroke="#777" stroke-width="1.6"/>
<path d="M676.9 775.2L687.0 785.3L676.9 795.4L666.8 785.3Z" fill="#fff" stroke="#777" stroke-width="1.6"/>
<path d="M662.4 790.1L672.5 800.2L662.4 810.3L652.3 800.2Z" fill="#fff" stroke="#777" stroke-width="1.6"/>
<path d="M647.9 802.1L658.0 812.2L647.9 822.3L637.8 812.2Z" fill="#fff" stroke="#777" stroke-width="1.6"/>
<path d="M633.3 812.0L643.4 822.1L633.3 832.2L623.2 822.1Z" fill="#fff" stroke="#777" stroke-width="1.6"/>
<path d="M618.8 820.1L628.9 830.2L618.8 840.3L608.7 830.2Z" fill="#fff" stroke="#777" stroke-width="1.6"/>
<path d="M604.3 827.4L614.4 837.5L604.3 847.6L594.2 837.5Z" fill="#fff" stroke="#777" stroke-width="1.6"/>
<path d="M589.8 834.3L599.9 844.4L589.8 854.5L579.7 844.4Z" fill="#fff" stroke="#777" stroke-width="1.6"/>
<path d="M575.3 840.9L585.4 851.0L575.3 861.1L565.2 851.0Z" fill="#fff" stroke="#777" stroke-width="1.6"/>
<path d="M560.8 847.0L570.9 857.1L560.8 867.2L550.7 857.1Z" fill="#fff" stroke="#777" stroke-width="1.6"/>
<path d="M546.3 852.9L556.4 863.0L546.3 873.1L536.2 863.0Z" fill="#fff" stroke="#777" stroke-width="1.6"/>
<path d="M531.7 858.9L541.8 869.0L531.7 879.1L521.6 869.0Z" fill="#fff" stroke="#777" stroke-width="1.6"/>
<path d="M473.7 883.6L483.8 893.7L473.7 903.8L463.6 893.7Z" fill="#fff" stroke="#777" stroke-width="1.6"/>
<path d="M415.6 890.9L425.7 901.0L415.6 911.1L405.5 901.0Z" fill="#fff" stroke="#777" stroke-width="1.6"/>
<path d="M357.6 895.3L367.7 905.4L357.6 915.5L347.5 905.4Z" fill="#fff" stroke="#777" stroke-width="1.6"/>
<path d="M299.5 898.1L309.6 908.2L299.5 918.3L289.4 908.2Z" fill="#fff" stroke="#777" stroke-width="1.6"/>
<path d="M299.5 905.0L309.6 915.1L299.5 925.2L289.4 915.1Z" fill="#fff" stroke="#777" stroke-width="1.6"/>
<path d="M357.6 904.7L367.7 914.8L357.6 924.9L347.5 914.8Z" fill="#fff" stroke="#777" stroke-width="1.6"/>
<path d="M415.6 904.2L425.7 914.3L415.6 924.4L405.5 914.3Z" fill="#fff" stroke="#777" stroke-width="1.6"/>
<path d="M473.7 903.4L483.8 913.5L473.7 923.6L463.6 913.5Z" fill="#fff" stroke="#777" stroke-width="1.6"/>
<path d="M531.7 899.8L541.8 909.9L531.7 920.0L521.6 909.9Z" fill="#fff" stroke="#777" stroke-width="1.6"/>
<path d="M589.8 893.2L599.9 903.3L589.8 913.4L579.7 903.3Z" fill="#fff" stroke="#777" stroke-width="1.6"/>
<path d="M647.9 886.6L658.0 896.7L647.9 906.8L637.8 896.7Z" fill="#fff" stroke="#777" stroke-width="1.6"/>
<path d="M705.9 880.9L716.0 891.0L705.9 901.1L695.8 891.0Z" fill="#fff" stroke="#777" stroke-width="1.6"/>
<path d="M764.0 875.3L774.1 885.4L764.0 895.5L753.9 885.4Z" fill="#fff" stroke="#777" stroke-width="1.6"/>
<path d="M822.0 865.0L832.1 875.1L822.0 885.2L811.9 875.1Z" fill="#fff" stroke="#777" stroke-width="1.6"/>
<path d="M880.1 848.1L890.2 858.2L880.1 868.3L870.0 858.2Z" fill="#fff" stroke="#777" stroke-width="1.6"/>
<path d="M894.6 842.3L904.7 852.4L894.6 862.5L884.5 852.4Z" fill="#fff" stroke="#777" stroke-width="1.6"/>
<path d="M909.1 835.5L919.2 845.6L909.1 855.7L899.0 845.6Z" fill="#fff" stroke="#777" stroke-width="1.6"/>
<path d="M923.6 827.0L933.7 837.1L923.6 847.2L913.5 837.1Z" fill="#fff" stroke="#777" stroke-width="1.6"/>
<path d="M938.2 816.1L948.3 826.2L938.2 836.3L928.1 826.2Z" fill="#fff" stroke="#777" stroke-width="1.6"/>
<path d="M944.0 810.0L954.1 820.1L944.0 830.2L933.9 820.1Z" fill="#fff" stroke="#777" stroke-width="1.6"/>
<path d="M952.7 797.7L962.8 807.8L952.7 817.9L942.6 807.8Z" fill="#fff" stroke="#777" stroke-width="1.6"/>
<path d="M961.4 782.9L971.5 793.0L961.4 803.1L951.3 793.0Z" fill="#fff" stroke="#777" stroke-width="1.6"/>
<path d="M970.1 767.2L980.2 777.3L970.1 787.4L960.0 777.3Z" fill="#fff" stroke="#777" stroke-width="1.6"/>
<path d="M978.8 749.2L988.9 759.3L978.8 769.4L968.7 759.3Z" fill="#fff" stroke="#777" stroke-width="1.6"/>
<path d="M987.5 726.7L997.6 736.8L987.5 746.9L977.4 736.8Z" fill="#fff" stroke="#777" stroke-width="1.6"/>
<path d="M996.2 693.8L1006.3 703.9L996.2 714.0L986.1 703.9Z" fill="#fff" stroke="#777" stroke-width="1.6"/>
<path d="M1004.9 648.0L1015.0 658.1L1004.9 668.2L994.8 658.1Z" fill="#fff" stroke="#777" stroke-width="1.6"/>
<path d="M1013.6 558.2L1023.7 568.3L1013.6 578.4L1003.5 568.3Z" fill="#fff" stroke="#777" stroke-width="1.6"/>
<path d="M1022.3 469.4L1032.4 479.5L1022.3 489.6L1012.2 479.5Z" fill="#fff" stroke="#777" stroke-width="1.6"/>
<path d="M1031.1 395.1L1041.2 405.2L1031.1 415.3L1021.0 405.2Z" fill="#fff" stroke="#777" stroke-width="1.6"/>
<path d="M1039.8 353.8L1049.9 363.9L1039.8 374.0L1029.7 363.9Z" fill="#fff" stroke="#777" stroke-width="1.6"/>
<path d="M1048.5 323.5L1058.6 333.6L1048.5 343.7L1038.4 333.6Z" fill="#fff" stroke="#777" stroke-width="1.6"/>
<path d="M1057.2 299.5L1067.3 309.6L1057.2 319.7L1047.1 309.6Z" fill="#fff" stroke="#777" stroke-width="1.6"/>
<path d="M1068.8 272.7L1078.9 282.8L1068.8 292.9L1058.7 282.8Z" fill="#fff" stroke="#777" stroke-width="1.6"/>
<path d="M1083.3 247.9L1093.4 258.0L1083.3 268.1L1073.2 258.0Z" fill="#fff" stroke="#777" stroke-width="1.6"/>
<path d="M1097.8 232.6L1107.9 242.7L1097.8 252.8L1087.7 242.7Z" fill="#fff" stroke="#777" stroke-width="1.6"/>
<path d="M1112.3 219.8L1122.4 229.9L1112.3 240.0L1102.2 229.9Z" fill="#fff" stroke="#777" stroke-width="1.6"/>
<path d="M1126.9 205.4L1137.0 215.5L1126.9 225.6L1116.8 215.5Z" fill="#fff" stroke="#777" stroke-width="1.6"/>
<path d="M1141.4 196.9L1151.5 207.0L1141.4 217.1L1131.3 207.0Z" fill="#fff" stroke="#777" stroke-width="1.6"/>
<path d="M1155.9 190.4L1166.0 200.5L1155.9 210.6L1145.8 200.5Z" fill="#fff" stroke="#777" stroke-width="1.6"/>
<path d="M1170.4 184.9L1180.5 195.0L1170.4 205.1L1160.3 195.0Z" fill="#fff" stroke="#777" stroke-width="1.6"/>
<path d="M1184.9 179.7L1195.0 189.8L1184.9 199.9L1174.8 189.8Z" fill="#fff" stroke="#777" stroke-width="1.6"/>
<path d="M1199.4 174.9L1209.5 185.0L1199.4 195.1L1189.3 185.0Z" fill="#fff" stroke="#777" stroke-width="1.6"/>
<path d="M1213.9 170.8L1224.0 180.9L1213.9 191.0L1203.8 180.9Z" fill="#fff" stroke="#777" stroke-width="1.6"/>
<path d="M1228.5 167.8L1238.6 177.9L1228.5 188.0L1218.4 177.9Z" fill="#fff" stroke="#777" stroke-width="1.6"/>
<path d="M1286.5 161.4L1296.6 171.5L1286.5 181.6L1276.4 171.5Z" fill="#fff" stroke="#777" stroke-width="1.6"/>
<path d="M1344.6 157.1L1354.7 167.2L1344.6 177.3L1334.5 167.2Z" fill="#fff" stroke="#777" stroke-width="1.6"/>
<path d="M1402.6 153.9L1412.7 164.0L1402.6 174.1L1392.5 164.0Z" fill="#fff" stroke="#777" stroke-width="1.6"/>
<path d="M1460.7 150.7L1470.8 160.8L1460.7 170.9L1450.6 160.8Z" fill="#fff" stroke="#777" stroke-width="1.6"/>
<polyline fill="none" stroke="#d8c070" stroke-width="1.6" points="1460.7,158.6 1402.6,161.9 1344.6,165.6 1286.5,171.0 1228.5,173.6 1170.4,176.6 1112.3,183.4 1054.3,190.5 996.2,200.6 938.2,213.7 880.1,234.2 877.2,235.2 868.5,238.6 859.8,245.2 851.1,249.6 842.4,256.7 833.7,265.6 824.9,275.1 816.2,284.7 807.5,295.3 798.8,320.1 790.1,347.1 781.4,396.4 772.7,463.2 764.0,543.5 752.4,630.6 740.8,691.5 729.1,724.0 717.5,749.3 705.9,766.7 691.4,784.3 676.9,796.6 662.4,806.6 647.9,815.4 633.3,823.7 618.8,831.4 604.3,838.3 589.8,844.4 575.3,850.0 560.8,855.3 546.3,859.8 531.7,863.1 473.7,870.1 415.6,876.0 357.6,881.1 299.5,885.5 299.5,901.6 357.6,897.7 415.6,894.0 473.7,890.5 531.7,886.8 589.8,883.0 647.9,877.9 705.9,869.5 764.0,860.5 822.0,848.4 880.1,828.3 883.0,826.8 891.7,821.9 900.4,816.1 909.1,809.4 917.8,801.7 926.5,793.0 935.3,783.1 944.0,772.1 952.7,755.1 961.4,733.9 970.1,700.5 978.8,651.0 987.5,586.9 996.2,504.0 1007.8,422.7 1019.4,369.2 1031.1,331.6 1042.7,311.2 1054.3,291.2 1068.8,272.9 1083.3,258.9 1097.8,247.5 1112.3,237.4 1126.9,229.4 1141.4,222.6 1155.9,213.7 1170.4,208.9 1184.9,205.0 1199.4,201.8 1213.9,199.3 1228.5,197.2 1286.5,191.8 1344.6,184.8 1402.6,179.3 1460.7,176.6"/>
<path d="M1460.7 147.6L1471.7 158.6L1460.7 169.6L1449.7 158.6Z" fill="#b9960a"/>
<path d="M1402.6 150.9L1413.6 161.9L1402.6 172.9L1391.6 161.9Z" fill="#b9960a"/>
<path d="M1344.6 154.6L1355.6 165.6L1344.6 176.6L1333.6 165.6Z" fill="#b9960a"/>
<path d="M1286.5 160.0L1297.5 171.0L1286.5 182.0L1275.5 171.0Z" fill="#b9960a"/>
<path d="M1228.5 162.6L1239.5 173.6L1228.5 184.6L1217.5 173.6Z" fill="#b9960a"/>
<path d="M1170.4 165.6L1181.4 176.6L1170.4 187.6L1159.4 176.6Z" fill="#b9960a"/>
<path d="M1112.3 172.4L1123.3 183.4L1112.3 194.4L1101.3 183.4Z" fill="#b9960a"/>
<path d="M1054.3 179.5L1065.3 190.5L1054.3 201.5L1043.3 190.5Z" fill="#b9960a"/>
<path d="M996.2 189.6L1007.2 200.6L996.2 211.6L985.2 200.6Z" fill="#b9960a"/>
<path d="M938.2 202.7L949.2 213.7L938.2 224.7L927.2 213.7Z" fill="#b9960a"/>
<path d="M880.1 223.2L891.1 234.2L880.1 245.2L869.1 234.2Z" fill="#b9960a"/>
<path d="M877.2 224.2L888.2 235.2L877.2 246.2L866.2 235.2Z" fill="#b9960a"/>
<path d="M868.5 227.6L879.5 238.6L868.5 249.6L857.5 238.6Z" fill="#b9960a"/>
<path d="M859.8 234.2L870.8 245.2L859.8 256.2L848.8 245.2Z" fill="#b9960a"/>
<path d="M851.1 238.6L862.1 249.6L851.1 260.6L840.1 249.6Z" fill="#b9960a"/>
<path d="M842.4 245.7L853.4 256.7L842.4 267.7L831.4 256.7Z" fill="#b9960a"/>
<path d="M833.7 254.6L844.7 265.6L833.7 276.6L822.7 265.6Z" fill="#b9960a"/>
<path d="M824.9 264.1L835.9 275.1L824.9 286.1L813.9 275.1Z" fill="#b9960a"/>
<path d="M816.2 273.7L827.2 284.7L816.2 295.7L805.2 284.7Z" fill="#b9960a"/>
<path d="M807.5 284.3L818.5 295.3L807.5 306.3L796.5 295.3Z" fill="#b9960a"/>
<path d="M798.8 309.1L809.8 320.1L798.8 331.1L787.8 320.1Z" fill="#b9960a"/>
<path d="M790.1 336.1L801.1 347.1L790.1 358.1L779.1 347.1Z" fill="#b9960a"/>
<path d="M781.4 385.4L792.4 396.4L781.4 407.4L770.4 396.4Z" fill="#b9960a"/>
<path d="M772.7 452.2L783.7 463.2L772.7 474.2L761.7 463.2Z" fill="#b9960a"/>
<path d="M764.0 532.5L775.0 543.5L764.0 554.5L753.0 543.5Z" fill="#b9960a"/>
<path d="M752.4 619.6L763.4 630.6L752.4 641.6L741.4 630.6Z" fill="#b9960a"/>
<path d="M740.8 680.5L751.8 691.5L740.8 702.5L729.8 691.5Z" fill="#b9960a"/>
<path d="M729.1 713.0L740.1 724.0L729.1 735.0L718.1 724.0Z" fill="#b9960a"/>
<path d="M717.5 738.3L728.5 749.3L717.5 760.3L706.5 749.3Z" fill="#b9960a"/>
<path d="M705.9 755.7L716.9 766.7L705.9 777.7L694.9 766.7Z" fill="#b9960a"/>
<path d="M691.4 773.3L702.4 784.3L691.4 795.3L680.4 784.3Z" fill="#b9960a"/>
<path d="M676.9 785.6L687.9 796.6L676.9 807.6L665.9 796.6Z" fill="#b9960a"/>
<path d="M662.4 795.6L673.4 806.6L662.4 817.6L651.4 806.6Z" fill="#b9960a"/>
<path d="M647.9 804.4L658.9 815.4L647.9 826.4L636.9 815.4Z" fill="#b9960a"/>
<path d="M633.3 812.7L644.3 823.7L633.3 834.7L622.3 823.7Z" fill="#b9960a"/>
<path d="M618.8 820.4L629.8 831.4L618.8 842.4L607.8 831.4Z" fill="#b9960a"/>
<path d="M604.3 827.3L615.3 838.3L604.3 849.3L593.3 838.3Z" fill="#b9960a"/>
<path d="M589.8 833.4L600.8 844.4L589.8 855.4L578.8 844.4Z" fill="#b9960a"/>
<path d="M575.3 839.0L586.3 850.0L575.3 861.0L564.3 850.0Z" fill="#b9960a"/>
<path d="M560.8 844.3L571.8 855.3L560.8 866.3L549.8 855.3Z" fill="#b9960a"/>
<path d="M546.3 848.8L557.3 859.8L546.3 870.8L535.3 859.8Z" fill="#b9960a"/>
<path d="M531.7 852.1L542.7 863.1L531.7 874.1L520.7 863.1Z" fill="#b9960a"/>
<path d="M473.7 859.1L484.7 870.1L473.7 881.1L462.7 870.1Z" fill="#b9960a"/>
<path d="M415.6 865.0L426.6 876.0L415.6 887.0L404.6 876.0Z" fill="#b9960a"/>
<path d="M357.6 870.1L368.6 881.1L357.6 892.1L346.6 881.1Z" fill="#b9960a"/>
<path d="M299.5 874.5L310.5 885.5L299.5 896.5L288.5 885.5Z" fill="#b9960a"/>
<path d="M299.5 890.6L310.5 901.6L299.5 912.6L288.5 901.6Z" fill="#b9960a"/>
<path d="M357.6 886.7L368.6 897.7L357.6 908.7L346.6 897.7Z" fill="#b9960a"/>
<path d="M415.6 883.0L426.6 894.0L415.6 905.0L404.6 894.0Z" fill="#b9960a"/>
<path d="M473.7 879.5L484.7 890.5L473.7 901.5L462.7 890.5Z" fill="#b9960a"/>
<path d="M531.7 875.8L542.7 886.8L531.7 897.8L520.7 886.8Z" fill="#b9960a"/>
<path d="M589.8 872.0L600.8 883.0L589.8 894.0L578.8 883.0Z" fill="#b9960a"/>
<path d="M647.9 866.9L658.9 877.9L647.9 888.9L636.9 877.9Z" fill="#b9960a"/>
<path d="M705.9 858.5L716.9 869.5L705.9 880.5L694.9 869.5Z" fill="#b9960a"/>
<path d="M764.0 849.5L775.0 860.5L764.0 871.5L753.0 860.5Z" fill="#b9960a"/>
<path d="M822.0 837.4L833.0 848.4L822.0 859.4L811.0 848.4Z" fill="#b9960a"/>
<path d="M880.1 817.3L891.1 828.3L880.1 839.3L869.1 828.3Z" fill="#b9960a"/>
<path d="M883.0 815.8L894.0 826.8L883.0 837.8L872.0 826.8Z" fill="#b9960a"/>
<path d="M891.7 810.9L902.7 821.9L891.7 832.9L880.7 821.9Z" fill="#b9960a"/>
<path d="M900.4 805.1L911.4 816.1L900.4 827.1L889.4 816.1Z" fill="#b9960a"/>
<path d="M909.1 798.4L920.1 809.4L909.1 820.4L898.1 809.4Z" fill="#b9960a"/>
<path d="M917.8 790.7L928.8 801.7L917.8 812.7L906.8 801.7Z" fill="#b9960a"/>
<path d="M926.5 782.0L937.5 793.0L926.5 804.0L915.5 793.0Z" fill="#b9960a"/>
<path d="M935.3 772.1L946.3 783.1L935.3 794.1L924.3 783.1Z" fill="#b9960a"/>
<path d="M944.0 761.1L955.0 772.1L944.0 783.1L933.0 772.1Z" fill="#b9960a"/>
<path d="M952.7 744.1L963.7 755.1L952.7 766.1L941.7 755.1Z" fill="#b9960a"/>
<path d="M961.4 722.9L972.4 733.9L961.4 744.9L950.4 733.9Z" fill="#b9960a"/>
<path d="M970.1 689.5L981.1 700.5L970.1 711.5L959.1 700.5Z" fill="#b9960a"/>
<path d="M978.8 640.0L989.8 651.0L978.8 662.0L967.8 651.0Z" fill="#b9960a"/>
<path d="M987.5 575.9L998.5 586.9L987.5 597.9L976.5 586.9Z" fill="#b9960a"/>
<path d="M996.2 493.0L1007.2 504.0L996.2 515.0L985.2 504.0Z" fill="#b9960a"/>
<path d="M1007.8 411.7L1018.8 422.7L1007.8 433.7L996.8 422.7Z" fill="#b9960a"/>
<path d="M1019.4 358.2L1030.4 369.2L1019.4 380.2L1008.4 369.2Z" fill="#b9960a"/>
<path d="M1031.1 320.6L1042.1 331.6L1031.1 342.6L1020.1 331.6Z" fill="#b9960a"/>
<path d="M1042.7 300.2L1053.7 311.2L1042.7 322.2L1031.7 311.2Z" fill="#b9960a"/>
<path d="M1054.3 280.2L1065.3 291.2L1054.3 302.2L1043.3 291.2Z" fill="#b9960a"/>
<path d="M1068.8 261.9L1079.8 272.9L1068.8 283.9L1057.8 272.9Z" fill="#b9960a"/>
<path d="M1083.3 247.9L1094.3 258.9L1083.3 269.9L1072.3 258.9Z" fill="#b9960a"/>
<path d="M1097.8 236.5L1108.8 247.5L1097.8 258.5L1086.8 247.5Z" fill="#b9960a"/>
<path d="M1112.3 226.4L1123.3 237.4L1112.3 248.4L1101.3 237.4Z" fill="#b9960a"/>
<path d="M1126.9 218.4L1137.9 229.4L1126.9 240.4L1115.9 229.4Z" fill="#b9960a"/>
<path d="M1141.4 211.6L1152.4 222.6L1141.4 233.6L1130.4 222.6Z" fill="#b9960a"/>
<path d="M1155.9 202.7L1166.9 213.7L1155.9 224.7L1144.9 213.7Z" fill="#b9960a"/>
<path d="M1170.4 197.9L1181.4 208.9L1170.4 219.9L1159.4 208.9Z" fill="#b9960a"/>
<path d="M1184.9 194.0L1195.9 205.0L1184.9 216.0L1173.9 205.0Z" fill="#b9960a"/>
<path d="M1199.4 190.8L1210.4 201.8L1199.4 212.8L1188.4 201.8Z" fill="#b9960a"/>
<path d="M1213.9 188.3L1224.9 199.3L1213.9 210.3L1202.9 199.3Z" fill="#b9960a"/>
<path d="M1228.5 186.2L1239.5 197.2L1228.5 208.2L1217.5 197.2Z" fill="#b9960a"/>
<path d="M1286.5 180.8L1297.5 191.8L1286.5 202.8L1275.5 191.8Z" fill="#b9960a"/>
<path d="M1344.6 173.8L1355.6 184.8L1344.6 195.8L1333.6 184.8Z" fill="#b9960a"/>
<path d="M1402.6 168.3L1413.6 179.3L1402.6 190.3L1391.6 179.3Z" fill="#b9960a"/>
<path d="M1460.7 165.6L1471.7 176.6L1460.7 187.6L1449.7 176.6Z" fill="#b9960a"/>
</g>
<line x1="1167.0" y1="331.6" x2="1284.7" y2="331.6" stroke="#6a6ae8" stroke-width="1.6" />
<circle cx="1225.6" cy="331.6" r="11.6" fill="#0000d2"/>
<text x="1298.0" y="355.4" font-size="62" text-anchor="start" fill="#0000cc" >1.8 K</text>
<line x1="1167.0" y1="413.7" x2="1284.7" y2="413.7" stroke="#f07070" stroke-width="1.6" />
<circle cx="1225.6" cy="413.7" r="10.85" fill="#fff" stroke="#e85050" stroke-width="1.6"/>
<text x="1296.3" y="437.8" font-size="62" text-anchor="start" fill="#dd0000" >10 K</text>
<line x1="1167.0" y1="495.1" x2="1284.7" y2="495.1" stroke="#5a9a6a" stroke-width="1.6" />
<rect x="1214.0" y="483.5" width="23.2" height="23.2" fill="#0a5f14"/>
<text x="1296.3" y="519.2" font-size="62" text-anchor="start" fill="#006414" >20 K</text>
<line x1="1167.0" y1="583.6" x2="1284.7" y2="583.6" stroke="#f4a070" stroke-width="1.6" />
<rect x="1215.1" y="573.1" width="20.9" height="20.9" fill="#fff" stroke="#f09050" stroke-width="1.6"/>
<text x="1296.3" y="607.3" font-size="62" text-anchor="start" fill="#ee6610" >30 K</text>
<line x1="1167.0" y1="665.2" x2="1284.7" y2="665.2" stroke="#555555" stroke-width="1.6" />
<path d="M1225.6 654.5L1236.6 675.9L1214.5 675.9Z" fill="#000"/>
<text x="1296.3" y="688.7" font-size="62" text-anchor="start" fill="#000000" >40 K</text>
<line x1="1167.0" y1="739.6" x2="1284.7" y2="739.6" stroke="#7cff7c" stroke-width="1.6" />
<path d="M1232.4 728.9L1232.4 750.3L1211.1 750.3Z" fill="#23fa23"/>
<text x="1296.3" y="765.0" font-size="62" text-anchor="start" fill="#22ee22" >50 K</text>
<line x1="1167.0" y1="822.5" x2="1284.7" y2="822.5" stroke="#a0a0a0" stroke-width="1.6" />
<path d="M1225.6 812.4L1235.7 822.5L1225.6 832.6L1215.5 822.5Z" fill="#fff" stroke="#777" stroke-width="1.6"/>
<text x="1296.3" y="845.6" font-size="62" text-anchor="start" fill="#555555" >60 K</text>
<line x1="1167.0" y1="903.9" x2="1284.7" y2="903.9" stroke="#d8c070" stroke-width="1.6" />
<path d="M1225.6 892.9L1236.6 903.9L1225.6 914.9L1214.6 903.9Z" fill="#b9960a"/>
<text x="1296.3" y="928.0" font-size="62" text-anchor="start" fill="#bb9100" >80 K</text>
<text x="24.6" y="83.6" font-size="91" text-anchor="start" fill="#000" >(a)</text>
<text x="294.1" y="114.9" font-size="63" text-anchor="end" fill="#000" >400</text>
<text x="294.1" y="329.2" font-size="63" text-anchor="end" fill="#000" >200</text>
<text x="294.1" y="543.5" font-size="63" text-anchor="end" fill="#000" >0</text>
<text x="294.1" y="757.8" font-size="63" text-anchor="end" fill="#000" >200</text>
<text x="294.1" y="972.1" font-size="63" text-anchor="end" fill="#000" >400</text>
<rect x="153.9" y="740.2" width="38.6" height="4.0" fill="#000"/>
<rect x="153.9" y="954.5" width="38.6" height="4.0" fill="#000"/>
<rect x="271.8" y="1057.4" width="38.6" height="4.0" fill="#000"/>
<text x="311.5" y="1080.6" font-size="63" text-anchor="start" fill="#000" >1</text>
<text x="596.3" y="1080.6" font-size="63" text-anchor="middle" fill="#000" >0.5</text>
<text x="880.5" y="1080.6" font-size="63" text-anchor="middle" fill="#000" >0</text>
<text x="1170.4" y="1080.6" font-size="63" text-anchor="middle" fill="#000" >0.5</text>
<text x="1460.6" y="1080.6" font-size="63" text-anchor="middle" fill="#000" >1</text>
<text x="727.0" y="1155.7" font-size="68.8" text-anchor="start" fill="#000" >Field (kOe)</text>
<text x="339.2" y="153.4" font-size="69" text-anchor="start" fill="#000" >H</text>
<text x="389.5" y="187.3" font-size="46.7" text-anchor="start" fill="#000" >FC</text>
<text x="456.0" y="153.4" font-size="69.5" text-anchor="start" fill="#000" >= 0.1 kOe</text>
<text transform="translate(156.1,731.9) rotate(-90)" x="0" y="0" font-size="69.4" fill="#000">M</text>
<text transform="translate(191.7,670.9) rotate(-90)" x="0" y="0" font-size="48.5" fill="#000">LCMO</text>
<text transform="translate(156.9,533.7) rotate(-90)" x="0" y="0" font-size="68.7" fill="#000">(emu/cm</text>
<text transform="translate(122.0,290.3) rotate(-90)" x="0" y="0" font-size="46" fill="#000">3</text>
<text transform="translate(156.4,267.1) rotate(-90)" x="0" y="0" font-size="69" fill="#000">)</text>
<line x1="299.5" y1="2184.4" x2="299.5" y2="2163.4" stroke="#8a8a8a" stroke-width="1.8" />
<line x1="299.5" y1="1217.8" x2="299.5" y2="1238.8" stroke="#8a8a8a" stroke-width="1.8" />
<line x1="360.6" y1="2184.4" x2="360.6" y2="2173.4" stroke="#8a8a8a" stroke-width="1.8" />
<line x1="360.6" y1="1217.8" x2="360.6" y2="1228.8" stroke="#8a8a8a" stroke-width="1.8" />
<line x1="421.6" y1="2184.4" x2="421.6" y2="2173.4" stroke="#8a8a8a" stroke-width="1.8" />
<line x1="421.6" y1="1217.8" x2="421.6" y2="1228.8" stroke="#8a8a8a" stroke-width="1.8" />
<line x1="482.6" y1="2184.4" x2="482.6" y2="2173.4" stroke="#8a8a8a" stroke-width="1.8" />
<line x1="482.6" y1="1217.8" x2="482.6" y2="1228.8" stroke="#8a8a8a" stroke-width="1.8" />
<line x1="543.7" y1="2184.4" x2="543.7" y2="2163.4" stroke="#8a8a8a" stroke-width="1.8" />
<line x1="543.7" y1="1217.8" x2="543.7" y2="1238.8" stroke="#8a8a8a" stroke-width="1.8" />
<line x1="604.8" y1="2184.4" x2="604.8" y2="2173.4" stroke="#8a8a8a" stroke-width="1.8" />
<line x1="604.8" y1="1217.8" x2="604.8" y2="1228.8" stroke="#8a8a8a" stroke-width="1.8" />
<line x1="665.8" y1="2184.4" x2="665.8" y2="2173.4" stroke="#8a8a8a" stroke-width="1.8" />
<line x1="665.8" y1="1217.8" x2="665.8" y2="1228.8" stroke="#8a8a8a" stroke-width="1.8" />
<line x1="726.9" y1="2184.4" x2="726.9" y2="2173.4" stroke="#8a8a8a" stroke-width="1.8" />
<line x1="726.9" y1="1217.8" x2="726.9" y2="1228.8" stroke="#8a8a8a" stroke-width="1.8" />
<line x1="787.9" y1="2184.4" x2="787.9" y2="2163.4" stroke="#8a8a8a" stroke-width="1.8" />
<line x1="787.9" y1="1217.8" x2="787.9" y2="1238.8" stroke="#8a8a8a" stroke-width="1.8" />
<line x1="849.0" y1="2184.4" x2="849.0" y2="2173.4" stroke="#8a8a8a" stroke-width="1.8" />
<line x1="849.0" y1="1217.8" x2="849.0" y2="1228.8" stroke="#8a8a8a" stroke-width="1.8" />
<line x1="910.0" y1="2184.4" x2="910.0" y2="2173.4" stroke="#8a8a8a" stroke-width="1.8" />
<line x1="910.0" y1="1217.8" x2="910.0" y2="1228.8" stroke="#8a8a8a" stroke-width="1.8" />
<line x1="971.1" y1="2184.4" x2="971.1" y2="2173.4" stroke="#8a8a8a" stroke-width="1.8" />
<line x1="971.1" y1="1217.8" x2="971.1" y2="1228.8" stroke="#8a8a8a" stroke-width="1.8" />
<line x1="1032.1" y1="2184.4" x2="1032.1" y2="2163.4" stroke="#8a8a8a" stroke-width="1.8" />
<line x1="1032.1" y1="1217.8" x2="1032.1" y2="1238.8" stroke="#8a8a8a" stroke-width="1.8" />
<line x1="1093.2" y1="2184.4" x2="1093.2" y2="2173.4" stroke="#8a8a8a" stroke-width="1.8" />
<line x1="1093.2" y1="1217.8" x2="1093.2" y2="1228.8" stroke="#8a8a8a" stroke-width="1.8" />
<line x1="1154.2" y1="2184.4" x2="1154.2" y2="2173.4" stroke="#8a8a8a" stroke-width="1.8" />
<line x1="1154.2" y1="1217.8" x2="1154.2" y2="1228.8" stroke="#8a8a8a" stroke-width="1.8" />
<line x1="1215.2" y1="2184.4" x2="1215.2" y2="2173.4" stroke="#8a8a8a" stroke-width="1.8" />
<line x1="1215.2" y1="1217.8" x2="1215.2" y2="1228.8" stroke="#8a8a8a" stroke-width="1.8" />
<line x1="1276.3" y1="2184.4" x2="1276.3" y2="2163.4" stroke="#8a8a8a" stroke-width="1.8" />
<line x1="1276.3" y1="1217.8" x2="1276.3" y2="1238.8" stroke="#8a8a8a" stroke-width="1.8" />
<line x1="1337.4" y1="2184.4" x2="1337.4" y2="2173.4" stroke="#8a8a8a" stroke-width="1.8" />
<line x1="1337.4" y1="1217.8" x2="1337.4" y2="1228.8" stroke="#8a8a8a" stroke-width="1.8" />
<line x1="1398.4" y1="2184.4" x2="1398.4" y2="2173.4" stroke="#8a8a8a" stroke-width="1.8" />
<line x1="1398.4" y1="1217.8" x2="1398.4" y2="1228.8" stroke="#8a8a8a" stroke-width="1.8" />
<line x1="1459.5" y1="2184.4" x2="1459.5" y2="2173.4" stroke="#8a8a8a" stroke-width="1.8" />
<line x1="1459.5" y1="1217.8" x2="1459.5" y2="1228.8" stroke="#8a8a8a" stroke-width="1.8" />
<line x1="299.5" y1="2165.5" x2="319.5" y2="2165.5" stroke="#8a8a8a" stroke-width="1.8" />
<line x1="1461.0" y1="2165.5" x2="1441.0" y2="2165.5" stroke="#8a8a8a" stroke-width="1.8" />
<line x1="299.5" y1="1976.0" x2="319.5" y2="1976.0" stroke="#8a8a8a" stroke-width="1.8" />
<line x1="1461.0" y1="1976.0" x2="1441.0" y2="1976.0" stroke="#8a8a8a" stroke-width="1.8" />
<line x1="299.5" y1="1786.4" x2="319.5" y2="1786.4" stroke="#8a8a8a" stroke-width="1.8" />
<line x1="1461.0" y1="1786.4" x2="1441.0" y2="1786.4" stroke="#8a8a8a" stroke-width="1.8" />
<line x1="299.5" y1="1596.9" x2="319.5" y2="1596.9" stroke="#8a8a8a" stroke-width="1.8" />
<line x1="1461.0" y1="1596.9" x2="1441.0" y2="1596.9" stroke="#8a8a8a" stroke-width="1.8" />
<line x1="299.5" y1="1407.4" x2="319.5" y2="1407.4" stroke="#8a8a8a" stroke-width="1.8" />
<line x1="1461.0" y1="1407.4" x2="1441.0" y2="1407.4" stroke="#8a8a8a" stroke-width="1.8" />
<line x1="299.5" y1="1217.8" x2="319.5" y2="1217.8" stroke="#8a8a8a" stroke-width="1.8" />
<line x1="1461.0" y1="1217.8" x2="1441.0" y2="1217.8" stroke="#8a8a8a" stroke-width="1.8" />
<line x1="299.5" y1="1217.8" x2="299.5" y2="2184.4" stroke="#8a8a8a" stroke-width="2" />
<line x1="1461.0" y1="1217.8" x2="1461.0" y2="2184.4" stroke="#8a8a8a" stroke-width="2" />
<line x1="298.5" y1="1217.8" x2="1462.0" y2="1217.8" stroke="#7c7c7c" stroke-width="2.4" />
<line x1="298.5" y1="2184.4" x2="1462.0" y2="2184.4" stroke="#7c7c7c" stroke-width="2.4" />
<polyline points="321.5,1357.1 330.9,1363.3 340.4,1369.5 349.9,1375.7 359.3,1381.8 368.8,1387.9 378.3,1393.9 387.7,1399.9 397.2,1405.8 406.6,1411.7 416.1,1417.5 425.6,1423.3 435.0,1429.0 444.5,1434.7 454.0,1440.4 463.4,1446.0 472.9,1451.5 482.3,1457.1 491.8,1462.5 501.3,1468.0 510.7,1473.4 520.2,1478.7 529.7,1484.0 539.1,1489.3 548.6,1494.5 558.0,1499.7 567.5,1504.9 577.0,1510.0 586.4,1515.1 595.9,1520.1 605.4,1525.1 614.8,1530.0 624.3,1535.0 633.7,1539.8 643.2,1544.7 652.7,1549.5 662.1,1554.2 671.6,1559.0 681.1,1563.7 690.5,1568.3 700.0,1572.9 709.5,1577.5 718.9,1582.1 728.4,1586.6 737.8,1591.1 747.3,1595.5 756.8,1599.9 766.2,1604.3 775.7,1608.6 785.2,1612.9 794.6,1617.2 804.1,1621.5 813.5,1625.7 823.0,1629.8 832.5,1634.0 841.9,1638.1 851.4,1642.2 860.9,1646.2 870.3,1650.2 879.8,1654.2 889.2,1658.2 898.7,1662.1 908.2,1666.0 917.6,1669.9 927.1,1673.7 936.6,1677.5 946.0,1681.3 955.5,1685.0 964.9,1688.7 974.4,1692.4 983.9,1696.1 993.3,1699.7 1002.8,1703.3 1012.3,1706.9 1021.7,1710.4 1031.2,1714.0 1040.6,1717.5 1050.1,1720.9 1059.6,1724.4 1069.0,1727.8 1078.5,1731.2 1088.0,1734.5 1097.4,1737.9 1106.9,1741.2 1116.3,1744.4 1125.8,1747.7 1135.3,1750.9 1144.7,1754.1 1154.2,1757.3 1163.7,1760.5 1173.1,1763.6 1182.6,1766.7 1192.1,1769.8 1201.5,1772.9 1211.0,1775.9 1220.4,1778.9 1229.9,1781.9 1239.4,1784.9 1248.8,1787.8 1258.3,1790.7 1267.8,1793.6" fill="none" stroke="#000" stroke-width="8" stroke-linecap="round"/>
<polyline points="321.5,2056.7 331.0,2061.6 340.6,2066.3 350.1,2070.7 359.7,2075.0 369.2,2079.1 378.8,2083.0 388.3,2086.7 397.9,2090.2 407.4,2093.6 417.0,2096.8 426.5,2099.9 436.1,2102.9 445.6,2105.7 455.2,2108.4 464.7,2110.9 474.2,2113.4 483.8,2115.7 493.3,2118.0 502.9,2120.1 512.4,2122.2 522.0,2124.1 531.5,2126.0 541.1,2127.7 550.6,2129.4 560.2,2131.1 569.7,2132.6 579.3,2134.1 588.8,2135.5 598.4,2136.8 607.9,2138.1 617.5,2139.4 627.0,2140.5 636.6,2141.7 646.1,2142.7 655.7,2143.8 665.2,2144.7 674.8,2145.7 684.3,2146.6 693.9,2147.4 703.4,2148.2 713.0,2149.0 722.5,2149.7 732.1,2150.5 741.6,2151.1 751.1,2151.8 760.7,2152.4 770.2,2153.0 779.8,2153.5 789.3,2154.1 798.9,2154.6 808.4,2155.1 818.0,2155.6 827.5,2156.0 837.1,2156.4 846.6,2156.8 856.2,2157.2 865.7,2157.6 875.3,2158.0 884.8,2158.3 894.4,2158.6 903.9,2158.9 913.5,2159.2 923.0,2159.5 932.6,2159.8 942.1,2160.0 951.7,2160.3 961.2,2160.5 970.8,2160.7 980.3,2160.9 989.9,2161.2 999.4,2161.3 1008.9,2161.5 1018.5,2161.7 1028.0,2161.9 1037.6,2162.0 1047.1,2162.2 1056.7,2162.4 1066.2,2162.5 1075.8,2162.6 1085.3,2162.8 1094.9,2162.9 1104.4,2163.0 1114.0,2163.1 1123.5,2163.2 1133.1,2163.3 1142.6,2163.4 1152.2,2163.5 1161.7,2163.6 1171.3,2163.7 1180.8,2163.8 1190.4,2163.8 1199.9,2163.9 1209.5,2164.0 1219.0,2164.1 1228.6,2164.1 1238.1,2164.2 1247.7,2164.2 1257.2,2164.3 1266.8,2164.4 1276.3,2164.4" fill="none" stroke="#000" stroke-width="7" stroke-linecap="round"/>
<line x1="312.5" y1="1316.8" x2="330.5" y2="1316.8" stroke="#0b6a1a" stroke-width="1.5" />
<line x1="321.5" y1="1316.8" x2="321.5" y2="1329.3" stroke="#0b6a1a" stroke-width="1.5" />
<path d="M321.5 1317.3L345.5 1357.3L297.5 1357.3Z" fill="#0b6a1a"/>
<line x1="412.6" y1="1424.8" x2="430.6" y2="1424.8" stroke="#0b6a1a" stroke-width="1.5" />
<line x1="421.6" y1="1424.8" x2="421.6" y2="1437.3" stroke="#0b6a1a" stroke-width="1.5" />
<path d="M421.6 1425.3L445.6 1465.3L397.6 1465.3Z" fill="#0b6a1a"/>
<line x1="534.7" y1="1482.6" x2="552.7" y2="1482.6" stroke="#0b6a1a" stroke-width="1.5" />
<line x1="543.7" y1="1482.6" x2="543.7" y2="1495.1" stroke="#0b6a1a" stroke-width="1.5" />
<path d="M543.7 1483.1L567.7 1523.1L519.7 1523.1Z" fill="#0b6a1a"/>
<line x1="656.8" y1="1527.5" x2="674.8" y2="1527.5" stroke="#0b6a1a" stroke-width="1.5" />
<line x1="665.8" y1="1527.5" x2="665.8" y2="1540.0" stroke="#0b6a1a" stroke-width="1.5" />
<path d="M665.8 1528.0L689.8 1568.0L641.8 1568.0Z" fill="#0b6a1a"/>
<line x1="778.9" y1="1598.6" x2="796.9" y2="1598.6" stroke="#0b6a1a" stroke-width="1.5" />
<line x1="787.9" y1="1598.6" x2="787.9" y2="1611.1" stroke="#0b6a1a" stroke-width="1.5" />
<path d="M787.9 1599.1L811.9 1639.1L763.9 1639.1Z" fill="#0b6a1a"/>
<line x1="901.0" y1="1650.5" x2="919.0" y2="1650.5" stroke="#0b6a1a" stroke-width="1.5" />
<line x1="910.0" y1="1650.5" x2="910.0" y2="1663.0" stroke="#0b6a1a" stroke-width="1.5" />
<path d="M910.0 1651.0L934.0 1691.0L886.0 1691.0Z" fill="#0b6a1a"/>
<line x1="1023.1" y1="1688.6" x2="1041.1" y2="1688.6" stroke="#0b6a1a" stroke-width="1.5" />
<line x1="1032.1" y1="1688.6" x2="1032.1" y2="1701.1" stroke="#0b6a1a" stroke-width="1.5" />
<path d="M1032.1 1689.1L1056.1 1729.1L1008.1 1729.1Z" fill="#0b6a1a"/>
<line x1="1267.3" y1="1781.7" x2="1285.3" y2="1781.7" stroke="#0b6a1a" stroke-width="1.5" />
<line x1="1276.3" y1="1781.7" x2="1276.3" y2="1794.2" stroke="#0b6a1a" stroke-width="1.5" />
<path d="M1276.3 1782.2L1300.3 1822.2L1252.3 1822.2Z" fill="#0b6a1a"/>
<circle cx="321.5" cy="2023.0" r="21" fill="#dd0000"/>
<circle cx="421.6" cy="2109.2" r="21" fill="#dd0000"/>
<circle cx="543.7" cy="2143.9" r="21" fill="#dd0000"/>
<circle cx="665.8" cy="2144.7" r="21" fill="#dd0000"/>
<circle cx="787.9" cy="2153.2" r="21" fill="#dd0000"/>
<circle cx="910.0" cy="2153.2" r="21" fill="#dd0000"/>
<circle cx="1032.1" cy="2160.8" r="21" fill="#dd0000"/>
<circle cx="1276.3" cy="2164.7" r="21" fill="#dd0000"/>
<line x1="935.0" y1="1216.8" x2="935.0" y2="1668.0" stroke="#666" stroke-width="1.8" />
<line x1="935.0" y1="1668.0" x2="1456.8" y2="1668.0" stroke="#666" stroke-width="1.8" />
<line x1="935.0" y1="1216.8" x2="1460.8" y2="1216.8" stroke="#8a8a8a" stroke-width="2" />
<line x1="937.4" y1="1668.0" x2="937.4" y2="1658.0" stroke="#666" stroke-width="1.5" />
<line x1="963.4" y1="1668.0" x2="963.4" y2="1662.0" stroke="#666" stroke-width="1.5" />
<line x1="989.3" y1="1668.0" x2="989.3" y2="1662.0" stroke="#666" stroke-width="1.5" />
<line x1="1015.3" y1="1668.0" x2="1015.3" y2="1662.0" stroke="#666" stroke-width="1.5" />
<line x1="1041.3" y1="1668.0" x2="1041.3" y2="1658.0" stroke="#666" stroke-width="1.5" />
<line x1="1067.2" y1="1668.0" x2="1067.2" y2="1662.0" stroke="#666" stroke-width="1.5" />
<line x1="1093.2" y1="1668.0" x2="1093.2" y2="1662.0" stroke="#666" stroke-width="1.5" />
<line x1="1119.2" y1="1668.0" x2="1119.2" y2="1662.0" stroke="#666" stroke-width="1.5" />
<line x1="1145.2" y1="1668.0" x2="1145.2" y2="1658.0" stroke="#666" stroke-width="1.5" />
<line x1="1171.1" y1="1668.0" x2="1171.1" y2="1662.0" stroke="#666" stroke-width="1.5" />
<line x1="1197.1" y1="1668.0" x2="1197.1" y2="1662.0" stroke="#666" stroke-width="1.5" />
<line x1="1223.1" y1="1668.0" x2="1223.1" y2="1662.0" stroke="#666" stroke-width="1.5" />
<line x1="1249.0" y1="1668.0" x2="1249.0" y2="1658.0" stroke="#666" stroke-width="1.5" />
<line x1="1275.0" y1="1668.0" x2="1275.0" y2="1662.0" stroke="#666" stroke-width="1.5" />
<line x1="1301.0" y1="1668.0" x2="1301.0" y2="1662.0" stroke="#666" stroke-width="1.5" />
<line x1="1327.0" y1="1668.0" x2="1327.0" y2="1662.0" stroke="#666" stroke-width="1.5" />
<line x1="1352.9" y1="1668.0" x2="1352.9" y2="1658.0" stroke="#666" stroke-width="1.5" />
<line x1="1378.9" y1="1668.0" x2="1378.9" y2="1662.0" stroke="#666" stroke-width="1.5" />
<line x1="1404.9" y1="1668.0" x2="1404.9" y2="1662.0" stroke="#666" stroke-width="1.5" />
<line x1="1430.8" y1="1668.0" x2="1430.8" y2="1662.0" stroke="#666" stroke-width="1.5" />
<line x1="1456.8" y1="1668.0" x2="1456.8" y2="1658.0" stroke="#666" stroke-width="1.5" />
<line x1="1456.8" y1="1668.0" x2="1456.8" y2="1658.0" stroke="#666" stroke-width="1.5" />
<line x1="935.0" y1="1647.9" x2="941.0" y2="1647.9" stroke="#444" stroke-width="1.5" />
<line x1="935.0" y1="1632.5" x2="941.0" y2="1632.5" stroke="#444" stroke-width="1.5" />
<line x1="935.0" y1="1620.6" x2="941.0" y2="1620.6" stroke="#444" stroke-width="1.5" />
<line x1="935.0" y1="1610.9" x2="941.0" y2="1610.9" stroke="#444" stroke-width="1.5" />
<line x1="935.0" y1="1602.7" x2="941.0" y2="1602.7" stroke="#444" stroke-width="1.5" />
<line x1="935.0" y1="1595.6" x2="941.0" y2="1595.6" stroke="#444" stroke-width="1.5" />
<line x1="935.0" y1="1589.3" x2="941.0" y2="1589.3" stroke="#444" stroke-width="1.5" />
<line x1="935.0" y1="1583.7" x2="946.0" y2="1583.7" stroke="#444" stroke-width="1.5" />
<line x1="935.0" y1="1546.8" x2="941.0" y2="1546.8" stroke="#444" stroke-width="1.5" />
<line x1="935.0" y1="1525.2" x2="941.0" y2="1525.2" stroke="#444" stroke-width="1.5" />
<line x1="935.0" y1="1509.8" x2="941.0" y2="1509.8" stroke="#444" stroke-width="1.5" />
<line x1="935.0" y1="1497.9" x2="941.0" y2="1497.9" stroke="#444" stroke-width="1.5" />
<line x1="935.0" y1="1488.2" x2="941.0" y2="1488.2" stroke="#444" stroke-width="1.5" />
<line x1="935.0" y1="1480.0" x2="941.0" y2="1480.0" stroke="#444" stroke-width="1.5" />
<line x1="935.0" y1="1472.9" x2="941.0" y2="1472.9" stroke="#444" stroke-width="1.5" />
<line x1="935.0" y1="1466.6" x2="941.0" y2="1466.6" stroke="#444" stroke-width="1.5" />
<line x1="935.0" y1="1461.0" x2="946.0" y2="1461.0" stroke="#444" stroke-width="1.5" />
<line x1="935.0" y1="1424.1" x2="941.0" y2="1424.1" stroke="#444" stroke-width="1.5" />
<line x1="935.0" y1="1402.5" x2="941.0" y2="1402.5" stroke="#444" stroke-width="1.5" />
<line x1="935.0" y1="1387.1" x2="941.0" y2="1387.1" stroke="#444" stroke-width="1.5" />
<line x1="935.0" y1="1375.2" x2="941.0" y2="1375.2" stroke="#444" stroke-width="1.5" />
<line x1="935.0" y1="1365.5" x2="941.0" y2="1365.5" stroke="#444" stroke-width="1.5" />
<line x1="935.0" y1="1357.3" x2="941.0" y2="1357.3" stroke="#444" stroke-width="1.5" />
<line x1="935.0" y1="1350.2" x2="941.0" y2="1350.2" stroke="#444" stroke-width="1.5" />
<line x1="935.0" y1="1343.9" x2="941.0" y2="1343.9" stroke="#444" stroke-width="1.5" />
<line x1="935.0" y1="1338.3" x2="946.0" y2="1338.3" stroke="#444" stroke-width="1.5" />
<line x1="935.0" y1="1301.4" x2="941.0" y2="1301.4" stroke="#444" stroke-width="1.5" />
<line x1="935.0" y1="1279.8" x2="941.0" y2="1279.8" stroke="#444" stroke-width="1.5" />
<line x1="935.0" y1="1264.4" x2="941.0" y2="1264.4" stroke="#444" stroke-width="1.5" />
<line x1="935.0" y1="1252.5" x2="941.0" y2="1252.5" stroke="#444" stroke-width="1.5" />
<line x1="935.0" y1="1242.8" x2="941.0" y2="1242.8" stroke="#444" stroke-width="1.5" />
<line x1="935.0" y1="1234.6" x2="941.0" y2="1234.6" stroke="#444" stroke-width="1.5" />
<line x1="935.0" y1="1227.5" x2="941.0" y2="1227.5" stroke="#444" stroke-width="1.5" />
<line x1="935.0" y1="1221.2" x2="941.0" y2="1221.2" stroke="#444" stroke-width="1.5" />
<text x="925.6" y="1343.6" font-size="38.5" text-anchor="end" fill="#000" >100</text>
<text x="926.6" y="1466.3" font-size="39" text-anchor="end" fill="#000" >10</text>
<text x="925.6" y="1589.5" font-size="39" text-anchor="end" fill="#000" >1</text>
<text x="1145.2" y="1703.4" font-size="41" text-anchor="middle" fill="#000" >40</text>
<text x="1249.0" y="1703.4" font-size="41" text-anchor="middle" fill="#000" >60</text>
<text x="1352.9" y="1703.4" font-size="41" text-anchor="middle" fill="#000" >80</text>
<text x="971.0" y="1631.7" font-size="51" text-anchor="start" fill="#000" >T(K)</text>
<text transform="translate(870.5,1514.6) rotate(-90)" x="0" y="0" font-size="52" fill="#000">H(Oe)</text>
<line x1="945.3" y1="1262.0" x2="1429.0" y2="1312.2" stroke="#000" stroke-width="5.5" stroke-linecap="round"/>
<line x1="946.0" y1="1362.0" x2="1431.0" y2="1650.3" stroke="#000" stroke-width="5.5" stroke-linecap="round"/>
<path d="M946.7 1247.7L964.2 1275.7L929.2 1275.7Z" fill="#0b6a1a"/>
<path d="M989.3 1255.2L1006.8 1283.2L971.8 1283.2Z" fill="#0b6a1a"/>
<path d="M1041.3 1259.6L1058.8 1287.6L1023.8 1287.6Z" fill="#0b6a1a"/>
<path d="M1093.2 1263.4L1110.7 1291.4L1075.7 1291.4Z" fill="#0b6a1a"/>
<path d="M1145.2 1269.9L1162.7 1297.9L1127.7 1297.9Z" fill="#0b6a1a"/>
<path d="M1197.1 1275.2L1214.6 1303.2L1179.6 1303.2Z" fill="#0b6a1a"/>
<path d="M1249.0 1279.5L1266.5 1307.5L1231.5 1307.5Z" fill="#0b6a1a"/>
<path d="M1352.9 1291.6L1370.4 1319.6L1335.4 1319.6Z" fill="#0b6a1a"/>
<circle cx="946.7" cy="1353.5" r="17.4" fill="#dd0000"/>
<circle cx="989.3" cy="1403.0" r="17.4" fill="#dd0000"/>
<circle cx="1041.3" cy="1454.0" r="17.4" fill="#dd0000"/>
<circle cx="1093.2" cy="1455.9" r="17.4" fill="#dd0000"/>
<circle cx="1145.2" cy="1484.0" r="17.4" fill="#dd0000"/>
<circle cx="1197.1" cy="1484.0" r="17.4" fill="#dd0000"/>
<circle cx="1249.0" cy="1535.7" r="17.4" fill="#dd0000"/>
<circle cx="1352.9" cy="1631.2" r="17.4" fill="#dd0000"/>
<text x="21.5" y="1196.1" font-size="91" text-anchor="start" fill="#000" >(b)</text>
<text x="279.7" y="2178.3" font-size="62" text-anchor="end" fill="#000" >0</text>
<text x="279.7" y="1988.8" font-size="62" text-anchor="end" fill="#000" >100</text>
<text x="279.7" y="1799.2" font-size="62" text-anchor="end" fill="#000" >200</text>
<text x="279.7" y="1609.7" font-size="62" text-anchor="end" fill="#000" >300</text>
<text x="279.7" y="1420.2" font-size="62" text-anchor="end" fill="#000" >400</text>
<text x="279.7" y="1230.6" font-size="62" text-anchor="end" fill="#000" >500</text>
<text x="299.5" y="2259.0" font-size="62" text-anchor="middle" fill="#000" >0</text>
<text x="543.7" y="2259.0" font-size="62" text-anchor="middle" fill="#000" >20</text>
<text x="787.9" y="2259.0" font-size="62" text-anchor="middle" fill="#000" >40</text>
<text x="1032.1" y="2259.0" font-size="62" text-anchor="middle" fill="#000" >60</text>
<text x="1276.3" y="2259.0" font-size="62" text-anchor="middle" fill="#000" >80</text>
<text x="811.5" y="2314.3" font-size="69.8" text-anchor="start" fill="#000" >T(K)</text>
<text transform="translate(138.6,1792.1) rotate(-90)" x="0" y="0" font-size="69" fill="#000">H (Oe)</text>
<line x1="342.7" y1="1915.2" x2="466.5" y2="1915.2" stroke="#000" stroke-width="7" />
<circle cx="404.6" cy="1915.2" r="21" fill="#dd0000"/>
<text x="476.5" y="1942.5" font-size="67" text-anchor="start" fill="#dd0000" >H</text>
<text transform="translate(527,1975.7) scale(1.12,1)" x="0" y="0" font-size="41" fill="#dd0000">EB</text>
<text x="604.6" y="1943.2" font-size="67.5" text-anchor="start" fill="#dd0000" >(Oe)</text>
<line x1="841.8" y1="1915.2" x2="965.1" y2="1915.2" stroke="#000" stroke-width="7" />
<path d="M903.8 1895.5L928.5 1936.3L879.3 1936.3Z" fill="#0b6a1a"/>
<text x="975.1" y="1942.5" font-size="67" text-anchor="start" fill="#0b6a1a" >H</text>
<text x="1025.6" y="1976.3" font-size="47" text-anchor="start" fill="#0b6a1a" >C</text>
<text x="1055.3" y="1943.2" font-size="70" text-anchor="start" fill="#0b6a1a" >(Oe)</text>
<text x="1279.3" y="1953.8" font-size="83" text-anchor="start" fill="#000" >T</text>
<text x="1329.5" y="1994.0" font-size="55" text-anchor="start" fill="#000" >B</text>
<line x1="1290.0" y1="1985.3" x2="1290.0" y2="2090.0" stroke="#000" stroke-width="1.6" />
<path d="M1276 2076.3L1290 2088.3L1303.4 2076.3L1290 2112.2Z" fill="#000"/>
</svg></body></html>
